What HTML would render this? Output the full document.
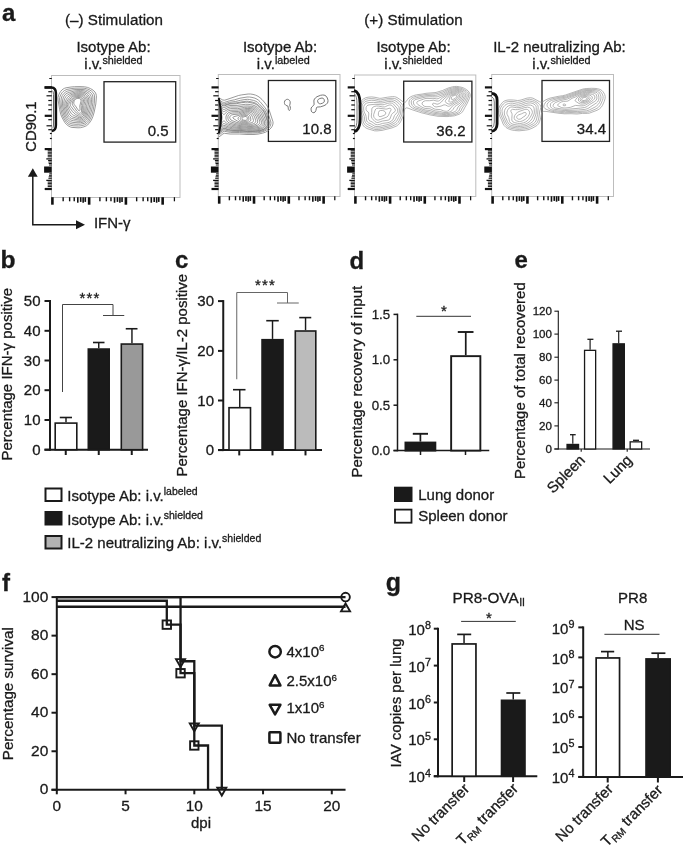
<!DOCTYPE html>
<html lang="en"><head><meta charset="utf-8"><title>Figure</title>
<style>
html,body{margin:0;padding:0;background:#fff;}
svg{display:block;font-family:"Liberation Sans",sans-serif;fill:#1a1a1a;}
text{stroke:#1a1a1a;stroke-width:0.3px;}
</style></head>
<body>
<svg width="683" height="846" viewBox="0 0 683 846">
<rect x="0" y="0" width="683" height="846" fill="#fff" stroke="none"/>
<text x="2.00" y="21.00" font-size="24" text-anchor="start" font-weight="bold" >a</text>
<text x="0.60" y="267.70" font-size="24.6" text-anchor="start" font-weight="bold" >b</text>
<text x="175.00" y="267.50" font-size="24" text-anchor="start" font-weight="bold" >c</text>
<text x="349.50" y="268.50" font-size="24" text-anchor="start" font-weight="bold" >d</text>
<text x="514.50" y="268.00" font-size="24" text-anchor="start" font-weight="bold" >e</text>
<text x="2.00" y="591.00" font-size="24" text-anchor="start" font-weight="bold" >f</text>
<text x="385.70" y="590.80" font-size="25" text-anchor="start" font-weight="bold" >g</text>
<text x="65.00" y="24.80" font-size="15.2" text-anchor="start" font-weight="normal" >(–) Stimulation</text>
<text x="364.30" y="24.80" font-size="15.2" text-anchor="start" font-weight="normal" >(+) Stimulation</text>
<text x="113.50" y="52.00" font-size="15" text-anchor="middle" font-weight="normal" >Isotype Ab:</text>
<text x="113.50" y="69" font-size="15" text-anchor="middle">i.v.<tspan font-size="10.8" dy="-4.6">shielded</tspan></text>
<text x="280.00" y="52.00" font-size="15" text-anchor="middle" font-weight="normal" >Isotype Ab:</text>
<text x="283.30" y="69" font-size="15" text-anchor="middle">i.v.<tspan font-size="10.8" dy="-4.6">labeled</tspan></text>
<text x="413.50" y="52.00" font-size="15" text-anchor="middle" font-weight="normal" >Isotype Ab:</text>
<text x="413.50" y="69" font-size="15" text-anchor="middle">i.v.<tspan font-size="10.8" dy="-4.6">shielded</tspan></text>
<text x="559.50" y="52.00" font-size="15" text-anchor="middle" font-weight="normal" >IL-2 neutralizing Ab:</text>
<text x="561.50" y="69" font-size="15" text-anchor="middle">i.v.<tspan font-size="10.8" dy="-4.6">shielded</tspan></text>
<clipPath id="cp1"><rect x="51.5" y="75.5" width="128.5" height="122.0"/></clipPath>
<clipPath id="cp2"><rect x="218.3" y="74.5" width="121.69999999999999" height="122.0"/></clipPath>
<clipPath id="cp3"><rect x="354.5" y="75" width="121.30000000000001" height="121.5"/></clipPath>
<clipPath id="cp4"><rect x="491.7" y="74.5" width="121.80000000000001" height="122.0"/></clipPath>
<rect x="51.5" y="75.5" width="128.5" height="122.0" fill="none" stroke="#bdbdbd" stroke-width="1"/>
<g stroke="#111">
<line x1="49.30" y1="78.50" x2="51.80" y2="78.50" stroke-width="1.0"/>
<line x1="44.70" y1="87.40" x2="51.80" y2="87.40" stroke-width="2.2"/>
<line x1="44.70" y1="115.80" x2="51.80" y2="115.80" stroke-width="2.2"/>
<line x1="44.70" y1="149.10" x2="51.80" y2="149.10" stroke-width="2.2"/>
<line x1="44.70" y1="189.00" x2="51.80" y2="189.00" stroke-width="2.2"/>
<line x1="48.30" y1="91.70" x2="51.80" y2="91.70" stroke-width="1.2"/>
<line x1="46.50" y1="95.80" x2="51.80" y2="95.80" stroke-width="1.2"/>
<line x1="48.30" y1="100.50" x2="51.80" y2="100.50" stroke-width="1.2"/>
<line x1="48.30" y1="105.00" x2="51.80" y2="105.00" stroke-width="1.2"/>
<line x1="48.30" y1="109.70" x2="51.80" y2="109.70" stroke-width="1.2"/>
<line x1="48.30" y1="119.70" x2="51.80" y2="119.70" stroke-width="1.2"/>
<line x1="46.50" y1="125.80" x2="51.80" y2="125.80" stroke-width="1.2"/>
<line x1="48.30" y1="129.70" x2="51.80" y2="129.70" stroke-width="1.2"/>
<line x1="49.90" y1="133.50" x2="51.80" y2="133.50" stroke-width="1.2"/>
<line x1="49.90" y1="138.50" x2="51.80" y2="138.50" stroke-width="1.2"/>
<line x1="47.70" y1="150.80" x2="51.80" y2="150.80" stroke-width="1.0"/>
<line x1="47.70" y1="152.30" x2="51.80" y2="152.30" stroke-width="1.0"/>
<line x1="47.70" y1="153.80" x2="51.80" y2="153.80" stroke-width="1.0"/>
<line x1="47.70" y1="155.30" x2="51.80" y2="155.30" stroke-width="1.0"/>
<line x1="47.70" y1="156.80" x2="51.80" y2="156.80" stroke-width="1.0"/>
<line x1="46.30" y1="158.90" x2="51.80" y2="158.90" stroke-width="1.3"/>
<line x1="48.10" y1="160.50" x2="51.80" y2="160.50" stroke-width="1.0"/>
<line x1="48.40" y1="162.00" x2="51.80" y2="162.00" stroke-width="1.0"/>
<line x1="48.70" y1="163.50" x2="51.80" y2="163.50" stroke-width="1.0"/>
<line x1="49.00" y1="165.00" x2="51.80" y2="165.00" stroke-width="1.0"/>
<rect x="44.10" y="166.50" width="7.6" height="6.2" fill="#111" stroke="none"/>
<line x1="49.30" y1="173.80" x2="51.80" y2="173.80" stroke-width="1.0"/>
<line x1="49.00" y1="175.30" x2="51.80" y2="175.30" stroke-width="1.0"/>
<line x1="48.70" y1="176.80" x2="51.80" y2="176.80" stroke-width="1.0"/>
<line x1="48.40" y1="178.30" x2="51.80" y2="178.30" stroke-width="1.0"/>
<line x1="46.30" y1="180.40" x2="51.80" y2="180.40" stroke-width="1.3"/>
<line x1="47.70" y1="182.10" x2="51.80" y2="182.10" stroke-width="1.0"/>
<line x1="47.70" y1="183.60" x2="51.80" y2="183.60" stroke-width="1.0"/>
<line x1="47.70" y1="185.10" x2="51.80" y2="185.10" stroke-width="1.0"/>
<line x1="47.70" y1="186.60" x2="51.80" y2="186.60" stroke-width="1.0"/>
<line x1="52.40" y1="197.20" x2="52.40" y2="204.70" stroke-width="2.6"/>
<line x1="89.15" y1="197.20" x2="89.15" y2="204.70" stroke-width="2.6"/>
<line x1="125.90" y1="197.20" x2="125.90" y2="204.70" stroke-width="2.6"/>
<line x1="162.65" y1="197.20" x2="162.65" y2="204.70" stroke-width="2.6"/>
<line x1="63.16" y1="197.20" x2="63.16" y2="201.30" stroke-width="1.4"/>
<line x1="69.63" y1="197.20" x2="69.63" y2="201.30" stroke-width="1.4"/>
<line x1="74.23" y1="197.20" x2="74.23" y2="201.30" stroke-width="1.4"/>
<line x1="77.79" y1="197.20" x2="77.79" y2="202.70" stroke-width="1.6"/>
<line x1="80.70" y1="197.20" x2="80.70" y2="201.90" stroke-width="1.6"/>
<line x1="83.16" y1="197.20" x2="83.16" y2="202.70" stroke-width="1.6"/>
<line x1="85.29" y1="197.20" x2="85.29" y2="201.90" stroke-width="1.6"/>
<line x1="99.91" y1="197.20" x2="99.91" y2="201.30" stroke-width="1.4"/>
<line x1="106.38" y1="197.20" x2="106.38" y2="201.30" stroke-width="1.4"/>
<line x1="110.98" y1="197.20" x2="110.98" y2="201.30" stroke-width="1.4"/>
<line x1="114.54" y1="197.20" x2="114.54" y2="202.70" stroke-width="1.6"/>
<line x1="117.45" y1="197.20" x2="117.45" y2="201.90" stroke-width="1.6"/>
<line x1="119.91" y1="197.20" x2="119.91" y2="202.70" stroke-width="1.6"/>
<line x1="122.04" y1="197.20" x2="122.04" y2="201.90" stroke-width="1.6"/>
<line x1="136.66" y1="197.20" x2="136.66" y2="201.30" stroke-width="1.4"/>
<line x1="143.13" y1="197.20" x2="143.13" y2="201.30" stroke-width="1.4"/>
<line x1="147.73" y1="197.20" x2="147.73" y2="201.30" stroke-width="1.4"/>
<line x1="151.29" y1="197.20" x2="151.29" y2="202.70" stroke-width="1.6"/>
<line x1="154.20" y1="197.20" x2="154.20" y2="201.90" stroke-width="1.6"/>
<line x1="156.66" y1="197.20" x2="156.66" y2="202.70" stroke-width="1.6"/>
<line x1="158.79" y1="197.20" x2="158.79" y2="201.90" stroke-width="1.6"/>
<line x1="174.41" y1="197.20" x2="174.41" y2="201.30" stroke-width="1.25"/>
</g>
<rect x="104" y="81.7" width="71.69999999999999" height="60.39999999999999" fill="none" stroke="#222" stroke-width="1.3"/>
<text x="168.50" y="136.30" font-size="15" text-anchor="end" font-weight="normal" >0.5</text>
<g fill="none" stroke="#7a7a7a" stroke-width="0.75" clip-path="url(#cp1)">
<path d="M76.9,98.5L78.0,98.3L79.5,98.6L80.5,99.3L81.0,100.5L80.9,101.5L79.8,106.0L80.1,110.0L79.9,110.5L79.5,110.8L79.0,110.8L78.0,109.9L76.2,107.0L74.2,104.5L73.8,103.5L73.8,102.0L74.4,100.5L75.5,99.2Z"/>
<path d="M77.4,97.5L79.0,97.5L80.5,97.9L81.5,98.7L82.2,100.0L82.1,101.5L81.2,105.5L81.6,111.0L81.0,112.6L80.5,113.1L80.0,113.3L79.5,113.3L78.5,112.8L76.7,111.0L74.3,107.5L72.8,105.5L72.1,104.0L72.5,102.0L73.9,99.5L75.5,98.1Z"/>
<path d="M75.8,97.0L78.0,96.6L80.5,96.8L81.5,97.3L82.5,98.0L83.4,99.5L83.5,101.0L82.5,105.5L82.8,110.0L82.6,112.0L82.3,113.0L81.7,114.0L80.5,114.9L79.5,114.9L78.5,114.6L76.4,113.0L74.1,110.5L71.0,106.5L70.5,105.5L70.3,104.5L70.4,103.5L71.0,102.0L71.9,100.5L73.5,98.5L74.5,97.7Z"/>
<path d="M76.0,96.0L79.0,95.6L81.5,96.1L82.5,96.6L83.7,97.5L84.4,98.5L84.7,99.5L84.7,101.5L83.8,105.5L83.8,110.5L83.5,112.7L83.1,114.0L82.5,115.0L81.5,115.9L80.5,116.3L79.5,116.3L78.0,115.9L75.7,114.5L73.8,113.0L72.5,111.6L70.0,108.2L69.3,107.0L68.8,105.5L68.7,104.5L69.1,103.0L69.9,101.5L71.2,99.5L72.5,98.1L73.5,97.2L74.7,96.5Z"/>
<path d="M76.2,95.0L79.5,94.7L81.0,94.9L82.5,95.3L83.7,96.0L84.8,97.0L85.5,98.0L86.1,99.5L86.1,101.5L85.2,105.5L84.9,110.5L84.4,113.5L83.8,115.0L83.0,116.2L82.0,117.1L81.0,117.5L79.5,117.6L78.0,117.3L73.9,115.5L72.3,114.5L71.0,113.1L69.5,110.6L68.2,108.0L67.5,106.0L67.4,104.5L67.7,103.0L68.5,101.3L70.1,99.0L71.5,97.5L73.0,96.3L74.5,95.5Z"/>
<path d="M76.3,94.0L78.5,93.8L80.5,93.8L82.0,94.0L83.5,94.6L85.0,95.5L86.0,96.5L87.0,98.0L87.4,99.5L87.4,102.0L86.5,106.4L85.9,111.5L85.2,114.5L84.5,116.1L83.5,117.5L82.5,118.2L81.0,118.8L79.5,118.9L77.5,118.5L72.7,117.0L71.0,116.0L70.0,115.0L68.8,113.0L67.0,108.5L66.3,106.0L66.2,104.0L66.6,102.0L67.7,100.0L69.2,98.0L70.7,96.5L72.5,95.3L74.5,94.5Z"/>
<path d="M76.2,93.0L78.5,92.8L81.0,92.8L83.0,93.1L84.5,93.7L86.0,94.7L87.3,96.0L88.2,97.5L88.7,99.0L88.8,101.0L88.6,103.0L87.3,110.5L86.2,115.0L85.4,117.0L84.5,118.2L83.0,119.4L81.5,119.9L79.0,120.1L74.0,119.1L71.5,118.4L70.0,117.5L68.6,116.0L67.5,114.0L65.2,106.5L64.9,104.0L65.2,102.0L66.2,99.5L67.4,97.5L69.0,96.0L71.0,94.8L73.5,93.7Z"/>
<path d="M75.6,92.0L78.5,91.7L81.0,91.7L83.0,92.0L85.0,92.6L87.0,93.8L88.3,95.0L89.3,96.5L90.0,98.5L90.2,101.0L89.9,104.5L88.8,110.0L87.1,116.0L86.2,118.0L85.0,119.6L83.5,120.6L81.5,121.2L78.5,121.4L73.5,120.7L71.0,120.1L69.5,119.2L67.9,117.5L66.4,115.0L65.7,113.0L64.0,106.5L63.7,103.5L64.0,101.0L64.7,98.5L66.0,96.4L67.4,95.0L69.3,94.0L72.5,92.8Z"/>
<path d="M74.3,91.0L77.0,90.7L80.5,90.6L83.0,90.7L85.0,91.2L87.0,92.0L89.0,93.4L90.4,95.0L91.1,96.5L91.5,99.5L91.3,104.0L90.4,109.5L88.8,115.0L87.7,118.0L86.5,119.9L85.0,121.3L83.0,122.2L80.5,122.7L78.0,122.8L73.0,122.4L70.5,121.7L68.5,120.4L67.0,118.6L65.4,116.0L64.4,113.0L62.9,107.0L62.4,104.0L62.6,100.0L63.5,97.0L65.0,94.7L67.0,93.2L69.5,92.3Z"/>
<path d="M76.1,89.5L83.0,89.5L85.5,89.9L87.5,90.6L89.9,92.0L91.5,93.5L92.4,95.0L92.9,97.0L92.9,102.5L92.4,106.5L91.2,112.0L89.2,118.0L87.8,120.5L86.0,122.4L84.0,123.4L80.5,124.2L76.0,124.3L72.0,123.9L69.5,123.0L67.5,121.5L65.4,118.5L63.7,115.0L62.2,109.5L61.3,105.0L61.0,101.0L61.3,98.0L62.3,95.5L63.8,93.5L65.5,92.1L67.5,91.1L73.0,89.8Z"/>
<path d="M71.9,88.5L75.0,88.2L81.0,88.1L84.0,88.2L86.5,88.7L89.0,89.6L91.5,91.1L93.0,92.5L94.2,94.5L94.6,97.0L94.3,103.5L93.2,110.0L92.2,114.0L90.7,118.0L88.8,121.5L86.9,123.5L84.5,124.9L81.0,125.8L78.5,126.0L73.0,125.8L70.0,125.0L68.0,123.9L66.1,122.0L63.7,118.0L62.3,115.0L60.8,109.0L59.8,103.0L59.5,99.0L59.7,97.5L60.2,96.0L60.9,94.5L62.0,92.8L63.2,91.5L64.5,90.5L67.0,89.4Z"/>
<path d="M71.0,87.0L74.5,86.7L80.0,86.6L84.5,86.8L87.5,87.4L90.5,88.6L93.0,90.1L95.0,92.0L96.0,94.0L96.3,95.5L96.4,97.0L95.8,104.0L94.2,112.0L92.9,116.5L91.4,120.0L89.0,123.5L86.5,125.7L84.0,126.8L80.5,127.7L78.0,127.8L72.0,127.4L70.5,127.0L69.0,126.3L66.5,124.5L64.8,122.5L62.3,118.0L60.8,114.5L59.6,109.5L58.1,100.0L58.0,97.5L58.7,95.0L59.6,93.0L60.6,91.5L61.9,90.0L63.2,89.0L64.5,88.3L66.0,87.8Z"/>
</g>
<path d="M44.5,87.5 L51.5,87.5 Q55.9,87.8 55.9,93.0 L55.9,125.0 Q55.9,130.5 51.8,131.0" fill="none" stroke="#111" stroke-width="2.5"/>
<path d="M52.0,90.5 Q53.5,91.0 53.5,94.5 L53.5,125.0 Q53.5,128.0 52.0,128.5" fill="none" stroke="#555" stroke-width="0.9"/>
<rect x="218.3" y="74.5" width="121.69999999999999" height="122.0" fill="none" stroke="#bdbdbd" stroke-width="1"/>
<g stroke="#111">
<line x1="216.10" y1="78.50" x2="218.60" y2="78.50" stroke-width="1.0"/>
<line x1="211.50" y1="87.40" x2="218.60" y2="87.40" stroke-width="2.2"/>
<line x1="211.50" y1="115.80" x2="218.60" y2="115.80" stroke-width="2.2"/>
<line x1="211.50" y1="149.10" x2="218.60" y2="149.10" stroke-width="2.2"/>
<line x1="211.50" y1="189.00" x2="218.60" y2="189.00" stroke-width="2.2"/>
<line x1="215.10" y1="91.70" x2="218.60" y2="91.70" stroke-width="1.2"/>
<line x1="213.30" y1="95.80" x2="218.60" y2="95.80" stroke-width="1.2"/>
<line x1="215.10" y1="100.50" x2="218.60" y2="100.50" stroke-width="1.2"/>
<line x1="215.10" y1="105.00" x2="218.60" y2="105.00" stroke-width="1.2"/>
<line x1="215.10" y1="109.70" x2="218.60" y2="109.70" stroke-width="1.2"/>
<line x1="215.10" y1="119.70" x2="218.60" y2="119.70" stroke-width="1.2"/>
<line x1="213.30" y1="125.80" x2="218.60" y2="125.80" stroke-width="1.2"/>
<line x1="215.10" y1="129.70" x2="218.60" y2="129.70" stroke-width="1.2"/>
<line x1="216.70" y1="133.50" x2="218.60" y2="133.50" stroke-width="1.2"/>
<line x1="216.70" y1="138.50" x2="218.60" y2="138.50" stroke-width="1.2"/>
<line x1="214.50" y1="150.80" x2="218.60" y2="150.80" stroke-width="1.0"/>
<line x1="214.50" y1="152.30" x2="218.60" y2="152.30" stroke-width="1.0"/>
<line x1="214.50" y1="153.80" x2="218.60" y2="153.80" stroke-width="1.0"/>
<line x1="214.50" y1="155.30" x2="218.60" y2="155.30" stroke-width="1.0"/>
<line x1="214.50" y1="156.80" x2="218.60" y2="156.80" stroke-width="1.0"/>
<line x1="213.10" y1="158.90" x2="218.60" y2="158.90" stroke-width="1.3"/>
<line x1="214.90" y1="160.50" x2="218.60" y2="160.50" stroke-width="1.0"/>
<line x1="215.20" y1="162.00" x2="218.60" y2="162.00" stroke-width="1.0"/>
<line x1="215.50" y1="163.50" x2="218.60" y2="163.50" stroke-width="1.0"/>
<line x1="215.80" y1="165.00" x2="218.60" y2="165.00" stroke-width="1.0"/>
<rect x="210.90" y="166.50" width="7.6" height="6.2" fill="#111" stroke="none"/>
<line x1="216.10" y1="173.80" x2="218.60" y2="173.80" stroke-width="1.0"/>
<line x1="215.80" y1="175.30" x2="218.60" y2="175.30" stroke-width="1.0"/>
<line x1="215.50" y1="176.80" x2="218.60" y2="176.80" stroke-width="1.0"/>
<line x1="215.20" y1="178.30" x2="218.60" y2="178.30" stroke-width="1.0"/>
<line x1="213.10" y1="180.40" x2="218.60" y2="180.40" stroke-width="1.3"/>
<line x1="214.50" y1="182.10" x2="218.60" y2="182.10" stroke-width="1.0"/>
<line x1="214.50" y1="183.60" x2="218.60" y2="183.60" stroke-width="1.0"/>
<line x1="214.50" y1="185.10" x2="218.60" y2="185.10" stroke-width="1.0"/>
<line x1="214.50" y1="186.60" x2="218.60" y2="186.60" stroke-width="1.0"/>
<line x1="219.20" y1="196.20" x2="219.20" y2="203.70" stroke-width="2.6"/>
<line x1="254.01" y1="196.20" x2="254.01" y2="203.70" stroke-width="2.6"/>
<line x1="288.81" y1="196.20" x2="288.81" y2="203.70" stroke-width="2.6"/>
<line x1="323.62" y1="196.20" x2="323.62" y2="203.70" stroke-width="2.6"/>
<line x1="229.38" y1="196.20" x2="229.38" y2="200.30" stroke-width="1.4"/>
<line x1="235.51" y1="196.20" x2="235.51" y2="200.30" stroke-width="1.4"/>
<line x1="239.85" y1="196.20" x2="239.85" y2="200.30" stroke-width="1.4"/>
<line x1="243.23" y1="196.20" x2="243.23" y2="201.70" stroke-width="1.6"/>
<line x1="245.98" y1="196.20" x2="245.98" y2="200.90" stroke-width="1.6"/>
<line x1="248.31" y1="196.20" x2="248.31" y2="201.70" stroke-width="1.6"/>
<line x1="250.33" y1="196.20" x2="250.33" y2="200.90" stroke-width="1.6"/>
<line x1="264.18" y1="196.20" x2="264.18" y2="200.30" stroke-width="1.4"/>
<line x1="270.31" y1="196.20" x2="270.31" y2="200.30" stroke-width="1.4"/>
<line x1="274.66" y1="196.20" x2="274.66" y2="200.30" stroke-width="1.4"/>
<line x1="278.03" y1="196.20" x2="278.03" y2="201.70" stroke-width="1.6"/>
<line x1="280.79" y1="196.20" x2="280.79" y2="200.90" stroke-width="1.6"/>
<line x1="283.12" y1="196.20" x2="283.12" y2="201.70" stroke-width="1.6"/>
<line x1="285.14" y1="196.20" x2="285.14" y2="200.90" stroke-width="1.6"/>
<line x1="298.99" y1="196.20" x2="298.99" y2="200.30" stroke-width="1.4"/>
<line x1="305.12" y1="196.20" x2="305.12" y2="200.30" stroke-width="1.4"/>
<line x1="309.47" y1="196.20" x2="309.47" y2="200.30" stroke-width="1.4"/>
<line x1="312.84" y1="196.20" x2="312.84" y2="201.70" stroke-width="1.6"/>
<line x1="315.59" y1="196.20" x2="315.59" y2="200.90" stroke-width="1.6"/>
<line x1="317.92" y1="196.20" x2="317.92" y2="201.70" stroke-width="1.6"/>
<line x1="319.94" y1="196.20" x2="319.94" y2="200.90" stroke-width="1.6"/>
<line x1="334.79" y1="196.20" x2="334.79" y2="200.30" stroke-width="1.25"/>
</g>
<rect x="268.4" y="80.5" width="67.40000000000003" height="60.900000000000006" fill="none" stroke="#222" stroke-width="1.3"/>
<text x="331.50" y="134.40" font-size="15" text-anchor="end" font-weight="normal" >10.8</text>
<g fill="none" stroke="#787878" stroke-width="0.75" clip-path="url(#cp2)">
<path d="M245.0,116.5L246.0,116.5L246.5,116.7L247.0,117.1L247.4,118.0L247.1,119.5L246.7,120.0L246.0,120.3L245.0,120.4L243.3,120.0L242.5,119.5L242.0,118.5L242.2,118.0L242.6,117.5L243.5,117.0Z"/>
<path d="M244.7,115.5L246.0,115.3L247.0,115.4L248.0,116.0L248.4,116.5L248.9,118.0L248.8,119.5L248.3,120.5L247.5,121.0L245.5,121.4L243.2,121.0L241.5,120.3L240.5,119.2L240.3,118.5L240.3,118.0L241.0,117.2L242.0,116.5Z"/>
<path d="M216.3,116.0L216.5,115.8L217.0,115.9L217.5,116.5L217.6,117.0L217.6,118.5L217.0,119.3L216.5,119.3L216.2,119.0L215.8,118.0L216.0,116.5Z"/>
<path d="M246.8,114.0L248.0,114.2L248.7,114.5L249.5,115.2L250.2,116.5L250.6,118.0L250.9,120.0L250.5,121.0L249.8,121.5L248.6,122.0L247.0,122.3L245.5,122.3L243.5,122.1L241.5,121.5L240.2,121.0L239.4,120.5L238.4,119.5L238.0,118.5L238.0,118.0L238.3,117.5L239.5,116.5L244.3,114.5Z"/>
<path d="M215.9,114.5L216.5,114.2L217.0,114.2L217.5,114.6L218.1,115.5L218.5,116.8L218.6,118.0L218.2,119.5L217.6,120.5L217.0,120.9L216.5,120.9L215.9,120.5L215.5,119.9L215.0,118.5L215.0,116.5L215.5,115.1Z"/>
<path d="M216.0,113.0L217.0,112.9L218.0,113.5L218.9,115.0L219.3,117.0L219.2,119.0L218.8,120.5L218.0,121.7L217.0,122.3L216.0,122.1L215.4,121.5L214.7,120.0L214.3,118.5L214.3,117.0L214.5,115.4L215.1,114.0Z"/>
<path d="M245.6,113.0L247.5,112.8L249.0,113.0L250.5,113.9L251.5,115.0L252.7,117.5L253.5,120.5L253.3,121.5L253.0,121.9L252.0,122.6L250.0,123.1L247.0,123.3L244.5,123.2L241.5,122.6L239.4,122.0L237.3,121.0L234.1,119.0L233.0,118.0L232.9,117.5L233.2,117.0L234.0,116.6L238.0,115.6Z"/>
<path d="M216.2,111.5L217.0,111.5L217.5,111.7L218.8,113.0L219.7,115.0L220.1,117.0L220.0,119.0L219.5,121.0L218.5,122.6L218.0,123.1L217.0,123.6L216.0,123.5L215.0,122.5L214.1,120.5L213.6,118.0L213.8,115.5L214.4,113.5L215.4,112.0Z"/>
<path d="M245.1,112.0L247.5,111.6L249.5,111.9L251.5,112.8L253.0,114.2L254.6,117.0L255.7,120.5L255.7,121.5L255.3,122.5L254.0,123.6L252.0,124.2L248.5,124.3L245.0,124.2L240.6,123.5L237.0,122.5L232.0,120.6L231.0,120.0L230.0,118.7L229.7,117.5L230.0,116.5L230.5,115.7L231.5,115.0L233.0,114.6L238.5,114.1Z"/>
<path d="M215.3,110.5L216.0,110.1L217.0,110.1L218.5,111.1L220.1,113.5L220.9,116.5L220.9,119.0L220.2,121.5L219.5,122.9L218.6,124.0L218.0,124.5L217.0,124.9L216.0,124.8L215.5,124.6L214.6,123.5L213.7,121.5L213.1,119.0L213.0,116.5L213.5,114.0L214.2,112.0Z"/>
<path d="M244.7,111.0L247.5,110.6L250.5,110.9L252.8,112.0L254.4,113.5L256.2,116.5L257.3,119.5L257.7,121.0L257.7,122.0L257.4,123.0L257.0,123.5L256.0,124.3L253.5,125.2L250.5,125.4L246.0,125.2L240.5,124.5L236.5,123.7L231.0,122.0L229.5,121.2L228.4,120.0L227.9,118.5L227.9,116.5L228.5,115.0L230.0,113.7L231.0,113.4L232.5,113.1L238.5,112.8Z"/>
<path d="M215.3,109.0L216.0,108.7L217.0,108.7L218.0,109.2L219.0,110.2L220.3,112.0L221.1,113.5L221.8,115.5L222.0,117.0L222.0,118.5L221.8,120.0L220.8,122.5L219.0,125.0L218.0,125.8L217.0,126.2L216.0,126.2L215.5,126.0L214.2,124.5L213.1,122.0L212.5,119.0L212.5,116.0L213.0,113.2L214.0,110.6L214.5,109.8Z"/>
<path d="M247.5,109.5L250.5,109.8L252.7,110.5L254.8,112.0L256.5,114.0L258.1,117.0L259.3,120.0L259.7,121.5L259.7,122.5L259.4,123.5L258.7,124.5L258.0,125.0L255.0,126.0L251.0,126.5L246.5,126.3L239.0,125.4L235.0,124.6L229.5,123.1L227.7,122.0L226.6,120.5L226.2,119.5L225.9,118.0L226.1,116.0L227.1,114.0L228.0,113.0L229.0,112.4L231.5,111.7L238.5,111.5L244.5,109.9Z"/>
<path d="M215.4,107.5L216.0,107.3L217.0,107.3L218.5,108.1L220.1,110.0L222.5,113.4L223.5,114.4L224.0,114.4L224.5,114.1L227.5,111.3L228.5,110.8L230.0,110.3L238.0,110.1L244.5,108.7L247.0,108.4L250.0,108.5L252.5,109.1L254.0,109.8L255.7,111.0L257.1,112.5L258.2,114.0L261.3,121.0L261.5,122.5L261.3,124.0L260.6,125.0L260.0,125.5L258.5,126.3L257.0,126.7L252.0,127.4L247.0,127.3L236.5,126.1L230.0,124.7L227.5,123.7L226.4,123.0L224.5,121.2L224.0,120.9L223.5,120.9L222.5,121.9L220.3,125.0L219.0,126.4L217.5,127.4L216.0,127.5L215.0,127.0L214.5,126.5L213.3,124.5L212.2,121.0L211.8,118.0L212.0,115.0L212.8,111.5L214.0,108.9Z"/>
<path d="M215.8,106.0L217.0,105.9L218.5,106.6L219.5,107.6L222.0,110.6L223.0,111.4L223.5,111.6L224.5,111.4L228.0,109.3L230.5,108.6L237.5,108.7L244.5,107.4L247.5,107.2L250.5,107.4L253.5,108.2L255.5,109.3L257.0,110.4L258.5,112.0L259.6,113.5L262.9,121.0L263.2,123.0L262.9,124.5L262.2,125.5L261.5,126.2L260.5,126.8L259.0,127.4L254.0,128.2L249.0,128.4L236.5,127.2L231.5,126.4L228.5,125.6L224.5,123.7L223.5,123.6L222.5,124.1L218.5,128.2L217.0,128.8L215.5,128.7L214.0,127.4L213.1,126.0L212.5,124.5L211.5,120.5L211.2,117.0L211.6,113.5L212.8,109.5L214.0,107.3L215.0,106.4Z"/>
<path d="M215.1,105.0L216.5,104.6L218.0,104.9L219.5,106.0L222.0,108.7L223.5,109.5L224.5,109.4L228.0,107.6L230.5,107.0L237.0,107.1L243.5,106.1L247.5,105.9L251.5,106.3L254.5,107.2L256.5,108.3L258.5,109.9L260.0,111.5L261.3,113.5L264.3,121.0L264.7,123.0L264.3,125.0L263.7,126.0L262.6,127.0L261.5,127.7L260.0,128.3L256.0,129.0L250.0,129.3L246.5,129.2L232.5,127.7L229.0,127.1L225.0,125.6L223.5,125.4L222.0,126.2L219.5,128.7L218.0,129.8L216.5,130.2L215.5,130.0L214.5,129.4L213.7,128.5L212.3,126.0L211.1,122.0L210.6,118.0L210.9,114.0L212.0,109.5L212.6,108.0L213.5,106.5Z"/>
<path d="M215.7,103.5L217.0,103.4L218.5,103.9L219.5,104.6L222.0,106.9L223.5,107.6L224.5,107.5L228.0,106.0L230.0,105.5L237.0,105.4L245.5,104.3L248.0,104.3L250.5,104.6L253.0,105.1L255.0,105.9L257.5,107.3L259.5,109.0L261.4,111.0L262.7,113.0L265.1,119.0L265.9,121.5L266.1,123.5L265.6,125.5L264.5,127.0L262.5,128.4L260.0,129.3L257.0,129.8L252.5,130.2L248.0,130.2L240.0,129.4L234.0,129.0L229.5,128.4L225.0,127.0L224.0,126.8L222.5,127.3L219.5,130.1L218.0,131.1L216.5,131.5L215.0,131.1L214.0,130.3L213.3,129.5L211.7,126.5L210.8,123.5L210.3,121.0L210.0,117.0L210.2,114.5L210.7,112.0L212.0,107.5L213.5,105.0L214.5,104.1Z"/>
<path d="M215.1,102.5L216.5,102.1L218.0,102.4L219.5,103.2L222.0,105.3L223.5,105.9L224.5,105.9L228.0,104.5L230.0,104.0L236.5,103.7L241.5,102.7L245.5,102.3L247.5,102.2L250.0,102.6L253.0,103.2L255.0,103.9L257.5,105.4L260.0,107.5L262.4,110.0L263.8,112.0L265.2,115.0L267.4,121.5L267.6,123.5L267.1,125.5L265.7,127.5L263.7,129.0L261.0,130.1L258.0,130.6L252.0,131.1L246.5,131.0L240.0,130.3L230.5,129.8L228.5,129.4L225.0,128.3L224.0,128.2L222.5,128.8L219.5,131.5L218.0,132.4L216.5,132.7L215.0,132.4L214.0,131.7L213.0,130.6L212.3,129.5L211.3,127.5L209.9,122.0L209.4,117.5L209.9,113.0L211.3,107.5L212.2,105.5L213.0,104.3L214.0,103.2Z"/>
<path d="M243.8,101.5L246.5,101.2L248.5,101.3L252.5,102.1L255.0,102.9L256.5,103.7L258.5,105.2L262.8,109.5L264.3,111.5L265.3,113.5L268.1,122.0L268.2,123.5L267.9,125.0L267.2,126.5L266.0,127.9L264.0,129.3L262.0,130.2L259.5,130.8L255.5,131.3L247.5,131.5L239.5,130.7L232.0,130.4L229.5,130.1L225.4,129.0L224.0,128.8L222.5,129.4L219.5,132.1L218.5,132.8L217.5,133.2L216.5,133.3L215.5,133.1L214.5,132.6L213.5,131.8L211.9,129.5L210.7,126.5L209.6,122.0L209.2,117.5L209.6,113.0L210.6,108.5L211.8,105.5L213.5,103.1L214.5,102.3L215.5,101.8L216.5,101.6L217.5,101.7L219.0,102.3L222.5,104.9L224.0,105.2L230.0,103.4L236.0,102.9Z"/>
<path d="M244.9,99.5L247.5,99.3L249.5,99.5L253.5,100.4L256.0,101.3L257.5,102.3L259.0,103.6L264.0,109.0L265.3,111.0L266.3,113.0L269.3,122.0L269.4,123.5L269.1,125.0L268.4,126.5L267.2,128.0L265.4,129.5L263.0,130.7L260.5,131.4L257.0,131.9L248.0,132.2L239.5,131.5L231.5,131.3L229.0,131.0L224.5,129.9L223.5,130.1L222.7,130.5L219.5,133.2L217.5,134.2L216.5,134.3L215.5,134.1L214.5,133.7L213.5,132.9L212.5,131.8L211.7,130.5L210.3,127.0L209.2,122.5L208.7,118.0L208.8,115.5L209.1,113.0L210.2,108.0L211.4,105.0L213.0,102.5L214.0,101.6L215.0,101.0L216.0,100.6L217.5,100.6L219.0,101.2L222.5,103.6L224.0,104.0L229.5,102.3L235.5,101.5L240.5,100.3Z"/>
<path d="M247.1,97.0L249.5,97.0L252.0,97.4L255.0,98.2L257.0,99.2L258.5,100.2L260.0,101.6L265.3,108.0L266.8,110.5L267.7,112.5L270.9,122.0L270.9,123.5L270.6,125.0L269.9,126.5L268.8,128.0L267.0,129.7L264.5,131.1L261.5,132.1L257.5,132.8L252.5,133.1L246.5,133.1L239.5,132.5L230.5,132.4L224.5,131.3L223.0,131.8L219.5,134.6L218.0,135.4L216.5,135.6L215.5,135.4L214.5,135.0L213.5,134.3L211.6,132.0L210.2,129.0L208.7,123.5L208.1,118.5L208.3,114.0L209.7,107.5L210.8,104.5L212.6,101.5L214.5,99.9L216.0,99.3L217.0,99.2L219.0,99.8L222.5,102.1L223.5,102.4L224.5,102.4L229.5,100.8L234.5,99.8L240.0,98.2Z"/>
<path d="M248.2,94.0L250.5,94.0L253.0,94.4L255.5,95.1L258.0,96.3L260.0,97.7L262.0,99.5L264.2,102.0L266.5,105.0L268.0,107.5L269.3,110.5L272.9,121.5L273.1,123.0L272.7,125.0L272.0,126.5L271.0,128.0L268.5,130.5L265.5,132.2L262.5,133.2L258.0,134.1L254.0,134.5L247.0,134.5L239.4,134.0L230.0,134.0L224.5,133.3L223.0,133.8L220.0,136.2L218.0,137.2L216.5,137.4L215.5,137.3L213.5,136.3L212.2,135.0L211.1,133.5L210.3,132.0L209.3,129.5L207.8,123.5L207.3,119.0L207.4,114.5L208.7,107.5L210.2,103.0L212.0,100.0L213.0,99.0L214.5,97.9L215.5,97.6L217.0,97.4L219.0,97.9L222.8,100.0L224.5,100.2L226.0,99.8L238.5,95.5L241.5,94.9Z"/>
</g>
<g fill="none" stroke="#6a6a6a" stroke-width="0.9" clip-path="url(#cp2)">
<path d="M286.3,99.5L287.5,99.3L288.5,99.6L289.5,100.4L290.1,101.5L290.2,103.0L289.7,105.5L290.3,107.0L290.4,108.5L290.2,109.5L289.5,110.4L289.0,110.4L288.4,109.5L288.0,106.2L286.0,105.4L285.5,105.0L285.0,104.5L284.5,103.5L284.4,102.5L284.7,101.0L285.5,100.0Z"/>
</g>
<g fill="none" stroke="#6a6a6a" stroke-width="0.9" clip-path="url(#cp2)">
<path d="M319.8,98.5L322.0,98.0L323.0,98.3L323.5,98.6L324.1,99.5L324.4,101.0L324.1,102.0L323.7,102.5L322.5,103.2L320.5,103.8L319.5,103.7L318.5,103.2L317.8,102.0L317.6,100.5L318.2,99.5Z"/>
<path d="M322.5,95.0L324.0,95.1L325.0,95.4L326.0,96.1L326.8,97.0L327.7,99.0L328.0,100.5L327.9,102.0L327.5,103.0L326.1,104.5L324.0,105.7L320.5,106.8L317.0,107.1L316.5,107.5L315.9,110.5L315.1,112.0L314.0,112.7L313.0,112.7L312.5,112.5L311.9,112.0L311.3,111.0L311.0,109.0L311.2,108.0L311.8,107.0L313.9,105.0L314.1,104.5L313.9,101.0L314.0,100.0L314.5,99.0L315.5,97.8L317.0,96.7L320.5,95.3Z"/>
</g>
<path d="M218.6,98 Q223.4,118 218.6,133.6 Z" fill="#444" fill-opacity="0.6" stroke="none"/>
<path d="M218.8,98 Q223.4,118 218.8,133.6" fill="none" stroke="#111" stroke-width="1.9"/>
<rect x="354.5" y="75" width="121.30000000000001" height="121.5" fill="none" stroke="#bdbdbd" stroke-width="1"/>
<g stroke="#111">
<line x1="352.30" y1="78.50" x2="354.80" y2="78.50" stroke-width="1.0"/>
<line x1="347.70" y1="87.40" x2="354.80" y2="87.40" stroke-width="2.2"/>
<line x1="347.70" y1="115.80" x2="354.80" y2="115.80" stroke-width="2.2"/>
<line x1="347.70" y1="149.10" x2="354.80" y2="149.10" stroke-width="2.2"/>
<line x1="347.70" y1="189.00" x2="354.80" y2="189.00" stroke-width="2.2"/>
<line x1="351.30" y1="91.70" x2="354.80" y2="91.70" stroke-width="1.2"/>
<line x1="349.50" y1="95.80" x2="354.80" y2="95.80" stroke-width="1.2"/>
<line x1="351.30" y1="100.50" x2="354.80" y2="100.50" stroke-width="1.2"/>
<line x1="351.30" y1="105.00" x2="354.80" y2="105.00" stroke-width="1.2"/>
<line x1="351.30" y1="109.70" x2="354.80" y2="109.70" stroke-width="1.2"/>
<line x1="351.30" y1="119.70" x2="354.80" y2="119.70" stroke-width="1.2"/>
<line x1="349.50" y1="125.80" x2="354.80" y2="125.80" stroke-width="1.2"/>
<line x1="351.30" y1="129.70" x2="354.80" y2="129.70" stroke-width="1.2"/>
<line x1="352.90" y1="133.50" x2="354.80" y2="133.50" stroke-width="1.2"/>
<line x1="352.90" y1="138.50" x2="354.80" y2="138.50" stroke-width="1.2"/>
<line x1="350.70" y1="150.80" x2="354.80" y2="150.80" stroke-width="1.0"/>
<line x1="350.70" y1="152.30" x2="354.80" y2="152.30" stroke-width="1.0"/>
<line x1="350.70" y1="153.80" x2="354.80" y2="153.80" stroke-width="1.0"/>
<line x1="350.70" y1="155.30" x2="354.80" y2="155.30" stroke-width="1.0"/>
<line x1="350.70" y1="156.80" x2="354.80" y2="156.80" stroke-width="1.0"/>
<line x1="349.30" y1="158.90" x2="354.80" y2="158.90" stroke-width="1.3"/>
<line x1="351.10" y1="160.50" x2="354.80" y2="160.50" stroke-width="1.0"/>
<line x1="351.40" y1="162.00" x2="354.80" y2="162.00" stroke-width="1.0"/>
<line x1="351.70" y1="163.50" x2="354.80" y2="163.50" stroke-width="1.0"/>
<line x1="352.00" y1="165.00" x2="354.80" y2="165.00" stroke-width="1.0"/>
<rect x="347.10" y="166.50" width="7.6" height="6.2" fill="#111" stroke="none"/>
<line x1="352.30" y1="173.80" x2="354.80" y2="173.80" stroke-width="1.0"/>
<line x1="352.00" y1="175.30" x2="354.80" y2="175.30" stroke-width="1.0"/>
<line x1="351.70" y1="176.80" x2="354.80" y2="176.80" stroke-width="1.0"/>
<line x1="351.40" y1="178.30" x2="354.80" y2="178.30" stroke-width="1.0"/>
<line x1="349.30" y1="180.40" x2="354.80" y2="180.40" stroke-width="1.3"/>
<line x1="350.70" y1="182.10" x2="354.80" y2="182.10" stroke-width="1.0"/>
<line x1="350.70" y1="183.60" x2="354.80" y2="183.60" stroke-width="1.0"/>
<line x1="350.70" y1="185.10" x2="354.80" y2="185.10" stroke-width="1.0"/>
<line x1="350.70" y1="186.60" x2="354.80" y2="186.60" stroke-width="1.0"/>
<line x1="355.40" y1="196.20" x2="355.40" y2="203.70" stroke-width="2.6"/>
<line x1="390.09" y1="196.20" x2="390.09" y2="203.70" stroke-width="2.6"/>
<line x1="424.78" y1="196.20" x2="424.78" y2="203.70" stroke-width="2.6"/>
<line x1="459.47" y1="196.20" x2="459.47" y2="203.70" stroke-width="2.6"/>
<line x1="365.54" y1="196.20" x2="365.54" y2="200.30" stroke-width="1.4"/>
<line x1="371.65" y1="196.20" x2="371.65" y2="200.30" stroke-width="1.4"/>
<line x1="375.99" y1="196.20" x2="375.99" y2="200.30" stroke-width="1.4"/>
<line x1="379.35" y1="196.20" x2="379.35" y2="201.70" stroke-width="1.6"/>
<line x1="382.09" y1="196.20" x2="382.09" y2="200.90" stroke-width="1.6"/>
<line x1="384.42" y1="196.20" x2="384.42" y2="201.70" stroke-width="1.6"/>
<line x1="386.43" y1="196.20" x2="386.43" y2="200.90" stroke-width="1.6"/>
<line x1="400.23" y1="196.20" x2="400.23" y2="200.30" stroke-width="1.4"/>
<line x1="406.34" y1="196.20" x2="406.34" y2="200.30" stroke-width="1.4"/>
<line x1="410.68" y1="196.20" x2="410.68" y2="200.30" stroke-width="1.4"/>
<line x1="414.04" y1="196.20" x2="414.04" y2="201.70" stroke-width="1.6"/>
<line x1="416.79" y1="196.20" x2="416.79" y2="200.90" stroke-width="1.6"/>
<line x1="419.11" y1="196.20" x2="419.11" y2="201.70" stroke-width="1.6"/>
<line x1="421.12" y1="196.20" x2="421.12" y2="200.90" stroke-width="1.6"/>
<line x1="434.92" y1="196.20" x2="434.92" y2="200.30" stroke-width="1.4"/>
<line x1="441.03" y1="196.20" x2="441.03" y2="200.30" stroke-width="1.4"/>
<line x1="445.37" y1="196.20" x2="445.37" y2="200.30" stroke-width="1.4"/>
<line x1="448.73" y1="196.20" x2="448.73" y2="201.70" stroke-width="1.6"/>
<line x1="451.48" y1="196.20" x2="451.48" y2="200.90" stroke-width="1.6"/>
<line x1="453.80" y1="196.20" x2="453.80" y2="201.70" stroke-width="1.6"/>
<line x1="455.81" y1="196.20" x2="455.81" y2="200.90" stroke-width="1.6"/>
<line x1="470.62" y1="196.20" x2="470.62" y2="200.30" stroke-width="1.25"/>
</g>
<rect x="403.7" y="81.2" width="68.19999999999999" height="60.8" fill="none" stroke="#222" stroke-width="1.3"/>
<text x="465.50" y="136.30" font-size="15" text-anchor="end" font-weight="normal" >36.2</text>
<g fill="none" stroke="#959595" stroke-width="0.7" clip-path="url(#cp3)">
<path d="M454.3,95.5L455.5,95.2L456.5,95.3L456.9,96.0L456.5,97.1L455.5,98.1L453.5,99.2L452.0,99.5L451.5,99.3L451.2,98.0L451.5,97.0L452.5,96.2Z"/>
<path d="M454.5,94.5L456.5,94.0L457.9,94.5L458.2,95.0L458.3,96.0L457.5,97.8L456.3,99.0L451.5,101.8L450.5,102.1L449.4,102.0L448.9,101.5L448.8,101.0L450.0,97.0L450.5,96.4L451.5,95.6Z"/>
<path d="M456.4,93.0L457.5,93.1L458.5,93.5L459.1,94.0L459.7,95.0L459.7,96.0L459.4,97.0L458.6,98.5L457.5,99.7L454.5,101.3L451.5,103.4L450.0,104.0L449.0,104.1L448.0,103.9L445.8,102.5L445.3,101.5L445.5,100.5L449.5,95.7L451.5,94.6Z"/>
<path d="M380.3,110.5L382.5,110.5L384.0,110.9L384.9,111.5L385.4,112.0L385.8,113.0L385.6,114.0L385.3,114.5L384.0,115.4L381.0,116.5L380.0,116.7L379.0,116.4L378.5,115.7L378.3,115.0L378.5,112.5L379.0,111.2Z"/>
<path d="M454.6,92.5L456.0,92.1L457.0,92.0L458.0,92.2L459.0,92.6L460.2,93.5L460.9,94.5L461.1,95.5L461.0,96.5L460.1,98.5L458.5,100.6L457.5,101.4L454.5,102.8L450.5,105.6L449.5,106.1L448.5,106.3L447.5,106.0L445.5,105.0L444.0,104.8L441.0,106.1L436.0,107.0L434.5,106.5L432.8,105.0L432.5,104.0L432.8,103.5L433.5,103.2L434.5,103.4L437.0,104.2L438.0,104.1L439.5,103.4L441.4,102.0L443.9,99.0L449.0,94.7L450.5,93.9Z"/>
<path d="M376.5,108.5L378.5,108.2L386.0,109.1L387.0,109.0L389.0,108.3L390.0,108.2L390.6,108.5L391.0,109.0L391.1,109.5L391.0,110.0L389.9,112.0L388.5,115.2L388.0,116.0L387.0,117.0L380.3,119.5L378.5,120.0L377.5,120.1L376.0,119.6L375.0,118.7L374.1,117.5L373.6,116.0L373.7,114.5L375.2,110.0L375.8,109.0Z"/>
<path d="M454.6,91.5L456.0,91.2L457.5,91.1L459.0,91.6L460.5,92.4L461.7,93.5L462.3,94.5L462.6,95.5L462.4,97.0L461.3,99.0L459.5,101.5L458.3,102.5L455.3,104.0L453.2,105.5L451.1,107.5L449.3,110.0L447.8,111.0L446.5,111.3L445.0,111.2L443.9,111.0L440.5,109.6L435.5,109.3L434.0,108.8L431.5,107.3L430.0,106.7L426.0,106.7L424.5,106.3L423.0,105.3L422.0,104.0L422.1,103.0L422.8,102.0L424.0,101.2L425.5,100.7L429.5,100.7L433.5,100.2L437.0,101.1L438.5,101.0L439.6,100.5L442.4,98.0L445.5,96.0L448.5,93.8L450.0,93.0Z"/>
<path d="M389.2,105.0L391.0,105.0L392.5,105.9L395.0,109.0L395.4,110.5L395.0,111.5L392.5,113.4L391.6,114.5L389.9,119.0L389.0,119.8L388.0,120.2L382.5,121.0L378.0,122.5L376.5,122.4L375.0,121.6L372.1,118.5L371.4,117.0L371.3,116.0L371.7,112.5L371.8,109.0L372.1,108.0L372.5,107.5L374.1,106.5L376.5,106.0L378.5,106.1L382.5,106.9L384.5,106.9L385.5,106.6L388.0,105.4Z"/>
<path d="M454.5,90.5L456.5,90.2L458.0,90.3L459.5,90.8L460.9,91.5L462.8,93.0L463.6,94.0L464.1,95.0L464.0,96.5L463.2,98.5L460.5,102.6L459.0,103.9L456.3,105.5L455.0,106.5L454.2,107.5L453.0,109.5L452.2,110.5L450.8,111.5L449.5,112.0L447.0,112.6L444.0,112.5L439.5,111.4L435.0,110.9L430.0,108.8L425.0,108.4L423.0,107.7L420.9,106.5L417.8,104.5L417.0,103.5L416.8,102.5L417.0,102.0L417.4,101.5L418.4,101.0L425.0,98.6L427.0,98.4L430.0,98.5L433.0,98.3L436.5,98.8L438.0,98.7L445.0,94.9L449.0,92.4Z"/>
<path d="M389.4,103.0L391.5,103.1L392.5,103.4L393.5,104.1L396.9,108.0L397.5,109.0L397.7,110.0L397.6,111.5L397.2,112.5L394.5,115.5L393.2,119.0L392.5,120.0L391.5,121.0L389.8,122.0L388.0,122.7L382.5,123.4L379.3,124.5L377.5,124.7L376.0,124.5L375.0,124.1L372.0,121.8L370.0,121.0L369.0,120.2L368.5,119.1L368.4,118.0L368.8,114.0L368.7,113.0L368.2,112.0L366.5,110.7L366.0,109.5L366.1,107.5L366.5,106.5L367.0,105.8L368.0,105.2L369.0,104.9L375.0,104.3L383.0,104.8L384.5,104.4L387.5,103.4Z"/>
<path d="M454.4,89.5L456.0,89.3L458.0,89.4L459.5,89.8L461.0,90.5L463.4,92.0L464.6,93.0L465.3,94.0L465.6,95.5L464.9,98.0L462.1,103.0L458.0,107.0L456.9,109.5L456.3,110.5L455.1,111.5L453.0,112.4L449.0,113.4L446.0,113.7L443.5,113.5L435.0,112.3L430.0,110.6L425.5,110.0L423.0,109.3L419.5,107.7L416.5,106.7L415.5,106.2L414.5,105.3L413.7,104.0L413.3,102.0L413.6,101.0L414.5,100.1L416.0,99.4L426.0,96.9L432.5,96.7L436.0,96.9L437.5,96.7L444.0,94.2L449.0,91.2Z"/>
<path d="M388.2,101.5L391.5,101.4L393.0,101.7L394.0,102.2L395.5,103.3L397.9,105.5L398.7,106.5L399.1,107.5L399.4,110.5L399.0,113.0L398.5,114.1L396.8,116.5L395.4,119.5L394.3,121.0L392.0,122.7L389.0,124.2L380.0,126.3L378.0,126.6L376.0,126.5L374.5,126.1L371.2,124.0L368.5,122.8L367.5,122.0L366.8,121.0L366.5,120.0L366.1,116.5L365.7,115.0L364.2,112.0L363.7,110.0L363.6,108.0L363.8,106.5L364.4,105.0L365.0,104.2L366.5,103.2L369.0,102.5L373.5,102.4L381.0,103.0L383.0,102.8Z"/>
<path d="M454.3,88.5L456.0,88.3L458.0,88.5L460.0,89.0L462.0,89.8L464.5,91.2L466.0,92.4L466.8,93.5L467.2,95.0L467.1,96.0L466.7,97.5L464.2,102.5L463.0,104.3L460.2,107.5L459.3,110.0L458.7,111.0L457.0,112.3L454.5,113.4L450.5,114.3L446.5,114.7L441.5,114.3L434.0,113.3L429.0,111.9L423.5,110.8L419.0,109.0L415.5,108.0L414.0,107.2L413.1,106.5L412.3,105.5L411.5,104.0L411.2,102.0L411.5,100.5L412.5,99.4L414.5,98.3L417.0,97.6L426.0,95.7L432.0,95.3L435.5,95.4L437.0,95.1L443.6,93.0L447.5,90.7L449.0,90.1Z"/>
<path d="M387.9,100.0L392.0,99.8L393.5,100.1L395.0,100.6L397.0,101.9L398.9,103.5L400.0,104.7L400.8,106.0L401.1,107.0L401.1,108.5L400.5,113.8L400.0,115.0L398.6,117.5L397.4,120.0L396.4,121.5L395.3,122.5L394.0,123.4L390.0,125.5L381.0,127.7L378.0,128.1L375.5,128.0L373.5,127.5L368.0,124.7L366.5,123.7L365.5,122.5L364.8,121.0L364.3,116.5L362.7,112.5L362.2,110.5L362.0,108.0L362.1,106.0L362.5,104.5L363.6,103.0L364.5,102.1L366.0,101.3L369.0,100.5L371.5,100.3L374.0,100.4L378.5,101.3L380.5,101.5L382.5,101.2Z"/>
<path d="M454.3,87.5L457.0,87.4L459.5,87.8L462.0,88.6L464.5,89.8L466.4,91.0L467.5,92.1L468.4,93.5L468.8,95.0L468.7,96.0L468.2,97.5L465.7,103.0L464.8,104.5L462.2,108.0L460.9,111.0L460.1,112.0L459.0,112.8L456.0,114.2L452.5,115.1L447.0,115.6L439.0,115.2L433.0,114.3L422.5,111.8L418.5,110.3L414.5,109.1L412.5,108.1L410.9,107.0L409.9,106.0L409.3,105.0L409.0,104.0L409.0,102.5L409.2,101.0L409.6,100.0L411.0,98.5L413.5,97.1L416.5,96.2L426.0,94.5L435.0,93.9L437.0,93.6L443.0,91.8L448.5,89.1L452.5,87.9Z"/>
<path d="M388.2,98.5L393.0,98.3L394.5,98.5L396.0,99.0L398.0,100.3L400.0,102.0L401.8,104.0L402.8,105.5L403.0,107.5L401.8,115.0L399.3,120.5L398.0,122.5L397.0,123.5L395.5,124.6L391.0,126.7L382.5,128.8L378.5,129.5L376.0,129.6L373.5,129.1L368.1,127.0L366.0,125.8L364.3,124.0L363.2,122.0L362.9,120.5L362.7,117.0L361.4,113.0L360.9,111.0L360.4,107.5L360.4,106.0L360.8,104.5L362.0,102.4L363.5,100.9L365.0,99.8L366.5,99.2L368.5,98.7L371.0,98.6L374.0,98.7L379.0,99.8L380.5,99.9Z"/>
<path d="M454.4,86.5L456.5,86.4L459.5,86.8L462.0,87.4L464.5,88.4L466.5,89.6L468.2,91.0L469.6,93.0L470.2,94.5L470.1,96.5L469.4,98.5L466.9,104.0L464.5,108.0L463.3,110.5L462.3,112.0L461.5,112.8L460.5,113.5L459.0,114.3L454.5,115.8L449.5,116.4L447.0,116.6L438.0,116.3L430.0,114.9L421.5,112.8L412.5,109.9L408.0,108.1L406.5,107.8L405.5,108.3L404.5,109.7L404.0,111.0L403.3,115.0L402.8,117.0L400.7,121.5L399.8,123.0L398.5,124.5L396.5,126.0L392.0,127.9L382.0,130.4L377.0,130.9L374.5,130.8L368.0,128.9L366.0,128.0L364.6,127.0L363.6,126.0L362.6,124.5L361.8,123.0L361.2,121.0L360.8,117.0L359.8,113.0L358.9,108.0L358.8,105.5L359.6,103.5L361.5,100.7L363.5,98.9L365.5,97.8L368.0,97.2L371.5,96.9L375.0,97.3L379.5,98.3L381.0,98.3L387.5,97.2L392.5,96.6L394.5,96.7L395.5,96.9L397.0,97.5L399.5,99.2L403.5,102.2L404.5,102.6L405.0,102.5L406.0,101.7L407.5,99.5L408.9,98.0L411.0,96.6L413.5,95.6L416.5,94.8L422.0,94.1L426.0,93.3L435.0,92.6L437.0,92.2L442.5,90.5L448.0,88.1L452.5,86.8Z"/>
</g>
<path d="M354,90.3 Q360.0,92 360.1,104 L360.1,119 Q360.0,130.5 354,131.7" fill="none" stroke="#111" stroke-width="2.8"/>
<path d="M354.5,94 Q357,96 357,104 L357,119 Q357,127 354.5,128.5" fill="none" stroke="#555" stroke-width="0.8"/>
<rect x="491.7" y="74.5" width="121.80000000000001" height="122.0" fill="none" stroke="#bdbdbd" stroke-width="1"/>
<g stroke="#111">
<line x1="489.50" y1="78.50" x2="492.00" y2="78.50" stroke-width="1.0"/>
<line x1="484.90" y1="87.40" x2="492.00" y2="87.40" stroke-width="2.2"/>
<line x1="484.90" y1="115.80" x2="492.00" y2="115.80" stroke-width="2.2"/>
<line x1="484.90" y1="149.10" x2="492.00" y2="149.10" stroke-width="2.2"/>
<line x1="484.90" y1="189.00" x2="492.00" y2="189.00" stroke-width="2.2"/>
<line x1="488.50" y1="91.70" x2="492.00" y2="91.70" stroke-width="1.2"/>
<line x1="486.70" y1="95.80" x2="492.00" y2="95.80" stroke-width="1.2"/>
<line x1="488.50" y1="100.50" x2="492.00" y2="100.50" stroke-width="1.2"/>
<line x1="488.50" y1="105.00" x2="492.00" y2="105.00" stroke-width="1.2"/>
<line x1="488.50" y1="109.70" x2="492.00" y2="109.70" stroke-width="1.2"/>
<line x1="488.50" y1="119.70" x2="492.00" y2="119.70" stroke-width="1.2"/>
<line x1="486.70" y1="125.80" x2="492.00" y2="125.80" stroke-width="1.2"/>
<line x1="488.50" y1="129.70" x2="492.00" y2="129.70" stroke-width="1.2"/>
<line x1="490.10" y1="133.50" x2="492.00" y2="133.50" stroke-width="1.2"/>
<line x1="490.10" y1="138.50" x2="492.00" y2="138.50" stroke-width="1.2"/>
<line x1="487.90" y1="150.80" x2="492.00" y2="150.80" stroke-width="1.0"/>
<line x1="487.90" y1="152.30" x2="492.00" y2="152.30" stroke-width="1.0"/>
<line x1="487.90" y1="153.80" x2="492.00" y2="153.80" stroke-width="1.0"/>
<line x1="487.90" y1="155.30" x2="492.00" y2="155.30" stroke-width="1.0"/>
<line x1="487.90" y1="156.80" x2="492.00" y2="156.80" stroke-width="1.0"/>
<line x1="486.50" y1="158.90" x2="492.00" y2="158.90" stroke-width="1.3"/>
<line x1="488.30" y1="160.50" x2="492.00" y2="160.50" stroke-width="1.0"/>
<line x1="488.60" y1="162.00" x2="492.00" y2="162.00" stroke-width="1.0"/>
<line x1="488.90" y1="163.50" x2="492.00" y2="163.50" stroke-width="1.0"/>
<line x1="489.20" y1="165.00" x2="492.00" y2="165.00" stroke-width="1.0"/>
<rect x="484.30" y="166.50" width="7.6" height="6.2" fill="#111" stroke="none"/>
<line x1="489.50" y1="173.80" x2="492.00" y2="173.80" stroke-width="1.0"/>
<line x1="489.20" y1="175.30" x2="492.00" y2="175.30" stroke-width="1.0"/>
<line x1="488.90" y1="176.80" x2="492.00" y2="176.80" stroke-width="1.0"/>
<line x1="488.60" y1="178.30" x2="492.00" y2="178.30" stroke-width="1.0"/>
<line x1="486.50" y1="180.40" x2="492.00" y2="180.40" stroke-width="1.3"/>
<line x1="487.90" y1="182.10" x2="492.00" y2="182.10" stroke-width="1.0"/>
<line x1="487.90" y1="183.60" x2="492.00" y2="183.60" stroke-width="1.0"/>
<line x1="487.90" y1="185.10" x2="492.00" y2="185.10" stroke-width="1.0"/>
<line x1="487.90" y1="186.60" x2="492.00" y2="186.60" stroke-width="1.0"/>
<line x1="492.60" y1="196.20" x2="492.60" y2="203.70" stroke-width="2.6"/>
<line x1="527.43" y1="196.20" x2="527.43" y2="203.70" stroke-width="2.6"/>
<line x1="562.27" y1="196.20" x2="562.27" y2="203.70" stroke-width="2.6"/>
<line x1="597.10" y1="196.20" x2="597.10" y2="203.70" stroke-width="2.6"/>
<line x1="502.79" y1="196.20" x2="502.79" y2="200.30" stroke-width="1.4"/>
<line x1="508.92" y1="196.20" x2="508.92" y2="200.30" stroke-width="1.4"/>
<line x1="513.27" y1="196.20" x2="513.27" y2="200.30" stroke-width="1.4"/>
<line x1="516.65" y1="196.20" x2="516.65" y2="201.70" stroke-width="1.6"/>
<line x1="519.41" y1="196.20" x2="519.41" y2="200.90" stroke-width="1.6"/>
<line x1="521.74" y1="196.20" x2="521.74" y2="201.70" stroke-width="1.6"/>
<line x1="523.76" y1="196.20" x2="523.76" y2="200.90" stroke-width="1.6"/>
<line x1="537.62" y1="196.20" x2="537.62" y2="200.30" stroke-width="1.4"/>
<line x1="543.75" y1="196.20" x2="543.75" y2="200.30" stroke-width="1.4"/>
<line x1="548.11" y1="196.20" x2="548.11" y2="200.30" stroke-width="1.4"/>
<line x1="551.48" y1="196.20" x2="551.48" y2="201.70" stroke-width="1.6"/>
<line x1="554.24" y1="196.20" x2="554.24" y2="200.90" stroke-width="1.6"/>
<line x1="556.57" y1="196.20" x2="556.57" y2="201.70" stroke-width="1.6"/>
<line x1="558.59" y1="196.20" x2="558.59" y2="200.90" stroke-width="1.6"/>
<line x1="572.45" y1="196.20" x2="572.45" y2="200.30" stroke-width="1.4"/>
<line x1="578.59" y1="196.20" x2="578.59" y2="200.30" stroke-width="1.4"/>
<line x1="582.94" y1="196.20" x2="582.94" y2="200.30" stroke-width="1.4"/>
<line x1="586.32" y1="196.20" x2="586.32" y2="201.70" stroke-width="1.6"/>
<line x1="589.07" y1="196.20" x2="589.07" y2="200.90" stroke-width="1.6"/>
<line x1="591.41" y1="196.20" x2="591.41" y2="201.70" stroke-width="1.6"/>
<line x1="593.43" y1="196.20" x2="593.43" y2="200.90" stroke-width="1.6"/>
<line x1="608.29" y1="196.20" x2="608.29" y2="200.30" stroke-width="1.25"/>
</g>
<rect x="542" y="80.5" width="67.5" height="60.900000000000006" fill="none" stroke="#222" stroke-width="1.3"/>
<text x="606.00" y="134.40" font-size="15" text-anchor="end" font-weight="normal" >34.4</text>
<g fill="none" stroke="#959595" stroke-width="0.7" clip-path="url(#cp4)">
<path d="M584.2,97.5L585.5,97.5L586.6,98.0L586.9,98.5L586.8,99.0L586.4,99.5L585.5,100.1L584.0,100.5L583.0,100.5L581.9,100.0L581.6,99.5L581.7,99.0L582.0,98.5L582.7,98.0Z"/>
<path d="M584.1,96.5L586.0,96.4L587.5,96.9L588.4,98.0L588.3,99.0L588.0,99.5L586.7,100.5L584.5,101.4L582.5,101.5L580.9,101.0L580.1,100.0L580.0,99.5L580.3,98.5L581.5,97.4Z"/>
<path d="M584.0,95.5L586.5,95.4L588.5,96.0L589.2,96.5L590.0,97.5L590.2,98.0L590.0,99.0L588.5,100.5L586.0,101.9L584.5,102.5L582.0,102.7L581.0,102.5L579.8,102.0L578.7,101.0L578.4,100.0L578.4,99.0L578.9,98.0L580.0,97.0L580.9,96.5Z"/>
<path d="M524.2,112.5L525.5,112.5L526.0,112.9L526.2,113.5L526.0,114.7L525.0,116.0L523.0,117.2L521.0,118.8L520.0,119.2L518.5,119.2L517.5,118.7L517.0,118.2L516.7,117.5L516.7,117.0L517.0,116.1L517.6,115.5L518.5,114.9L521.5,113.8Z"/>
<path d="M583.9,94.5L586.0,94.3L587.7,94.5L590.0,95.2L591.5,96.1L592.3,97.0L592.4,98.0L591.6,99.5L590.6,100.5L585.5,103.4L584.0,103.9L582.5,104.1L580.5,104.0L579.0,103.5L575.2,101.0L575.1,100.5L575.7,99.5L576.9,98.0L577.9,97.0L580.5,95.6Z"/>
<path d="M563.0,104.5L563.5,104.2L564.5,104.0L565.6,104.5L566.0,105.0L565.5,105.6L564.0,105.8L563.2,105.5L563.0,105.2L562.9,105.0Z"/>
<path d="M524.7,109.5L526.0,109.2L527.5,109.5L528.8,110.5L529.6,112.0L529.7,113.0L529.2,114.5L528.1,116.5L527.0,117.9L525.5,119.2L524.0,120.1L522.2,121.0L520.5,121.5L519.5,121.6L518.0,121.3L516.5,120.8L515.1,120.0L514.5,119.2L514.2,118.5L514.2,117.0L514.7,115.5L516.0,113.6L517.3,112.5L519.0,111.5Z"/>
<path d="M583.9,93.5L585.5,93.3L587.5,93.4L592.5,94.4L594.0,95.1L594.6,96.0L594.9,97.0L594.8,98.0L594.4,99.0L592.9,100.5L591.5,101.5L585.5,105.0L583.5,105.7L581.0,105.9L575.5,105.4L570.5,107.3L568.0,107.7L565.0,108.0L563.0,107.9L561.5,107.5L558.3,106.0L557.7,105.5L557.6,105.0L558.3,104.0L559.5,103.0L561.2,102.0L563.5,101.4L567.0,101.2L568.0,101.0L572.0,98.3L575.0,97.2L579.5,94.9Z"/>
<path d="M524.9,107.5L527.5,107.1L529.5,107.6L531.0,108.7L532.2,111.0L532.4,112.5L532.0,114.0L530.4,117.0L528.6,119.5L527.1,121.0L525.5,122.0L523.5,122.8L521.0,123.4L519.5,123.5L517.5,123.3L514.5,122.6L513.0,121.9L512.2,121.0L511.8,120.0L511.8,118.5L512.1,114.5L511.9,113.5L510.9,111.5L510.9,110.5L511.2,110.0L511.9,109.5L512.5,109.3L515.5,109.7L517.5,109.6L521.5,108.7Z"/>
<path d="M584.1,92.5L586.0,92.3L588.0,92.4L592.5,92.8L594.5,93.3L595.5,93.8L596.2,94.5L596.8,96.5L596.9,98.0L596.8,99.0L595.9,100.5L594.6,101.5L589.6,104.5L587.5,106.1L586.1,107.0L584.5,107.5L580.5,108.1L567.0,109.3L564.5,109.4L555.4,108.0L554.1,107.5L553.2,106.5L553.1,105.5L553.7,104.0L554.5,103.2L555.6,102.5L560.6,100.5L567.5,99.0L571.5,97.2L578.5,94.3L582.0,93.0Z"/>
<path d="M528.2,105.0L530.5,105.1L532.5,105.8L533.7,107.0L534.1,108.5L534.4,112.0L534.1,114.0L532.0,118.7L530.3,121.0L528.0,122.8L526.0,123.9L523.5,124.6L520.5,125.1L518.0,125.1L514.0,124.5L512.0,123.9L510.5,123.0L509.5,121.5L508.7,117.5L507.2,114.5L506.9,113.5L507.0,112.0L507.5,110.5L508.3,109.0L509.0,108.1L510.5,107.2L512.0,106.9L516.5,107.7L519.0,107.6L521.5,107.0L526.0,105.3Z"/>
<path d="M584.5,91.5L586.5,91.3L591.0,91.5L595.5,92.1L597.0,92.7L597.8,93.5L598.3,94.5L598.7,96.0L598.9,97.5L598.9,99.0L598.4,100.5L597.5,102.0L596.5,102.9L588.0,108.5L585.5,109.3L578.5,110.0L564.0,110.6L554.0,109.2L552.5,108.7L551.6,108.0L550.5,106.5L550.3,105.0L550.7,103.5L551.7,102.5L553.3,101.5L559.5,99.5L567.0,97.8L580.0,92.8L582.5,91.9Z"/>
<path d="M528.0,103.0L530.5,102.9L533.0,103.5L535.0,104.8L535.6,105.5L536.1,106.5L536.2,107.5L536.2,112.0L536.0,114.0L534.1,119.5L532.9,121.5L530.5,123.3L527.0,125.3L525.0,125.8L520.5,126.5L517.5,126.6L513.0,125.9L510.5,125.1L509.0,124.1L508.2,123.0L507.4,121.5L504.8,115.5L504.4,114.0L504.3,112.0L504.6,110.5L505.2,109.0L506.3,107.5L508.0,106.1L510.0,105.2L512.5,105.1L516.5,106.0L518.5,106.0L520.7,105.5L525.5,103.6Z"/>
<path d="M585.1,90.5L592.5,90.5L595.5,90.8L597.5,91.3L598.7,92.0L599.6,93.0L600.3,94.5L600.9,96.5L601.0,98.0L600.6,100.0L599.5,102.5L598.1,104.5L596.5,106.0L595.1,107.0L589.0,110.1L586.5,110.8L577.5,111.5L571.0,111.4L565.5,111.7L563.0,111.6L554.5,110.6L552.0,110.0L550.5,109.4L549.1,108.5L548.0,107.5L547.3,106.5L547.1,105.5L547.1,104.5L547.8,103.0L549.5,101.5L551.5,100.4L558.5,98.5L566.5,96.9L581.5,91.3Z"/>
<path d="M526.4,101.5L528.0,101.1L529.5,101.0L532.5,101.6L534.5,102.4L536.0,103.4L537.2,104.5L537.8,105.5L538.1,106.5L538.2,107.5L537.6,114.5L536.3,120.0L535.3,122.0L533.5,123.6L529.0,126.1L527.0,126.9L524.5,127.4L519.5,128.0L516.0,127.8L511.5,127.0L509.9,126.5L508.5,125.7L507.2,124.5L506.3,123.0L503.1,116.0L502.4,114.0L502.0,111.5L502.0,110.0L502.5,108.5L503.4,107.0L504.8,105.5L506.0,104.5L507.0,104.0L508.5,103.5L510.5,103.2L512.5,103.2L517.0,104.2L518.5,104.2L521.2,103.5Z"/>
<path d="M586.1,89.5L593.0,89.4L596.0,89.6L598.0,90.1L599.5,90.7L600.5,91.5L601.7,93.0L602.7,95.0L603.1,96.5L603.0,98.5L602.4,100.5L600.6,104.5L599.6,106.0L598.5,107.2L597.0,108.3L595.0,109.3L589.5,111.6L587.0,112.2L582.5,112.2L577.0,112.8L571.0,112.5L564.5,112.8L554.5,111.7L551.0,111.0L548.5,110.2L546.0,109.2L544.9,108.5L544.0,107.5L543.8,107.0L543.8,106.0L544.3,104.5L545.1,103.0L546.5,101.4L549.5,99.7L552.5,98.7L565.8,96.0L581.5,90.4L584.0,89.7Z"/>
<path d="M527.8,99.5L529.5,99.3L531.0,99.5L532.5,99.9L534.5,100.7L537.0,102.2L538.7,103.5L539.7,104.5L540.7,106.0L540.9,107.5L539.8,111.0L538.8,118.0L538.0,121.0L537.0,122.9L535.0,124.7L530.5,127.2L528.0,128.2L525.0,128.8L519.5,129.4L515.5,129.2L510.5,128.2L509.0,127.7L507.5,126.8L506.1,125.5L504.7,123.5L503.0,119.4L501.3,116.0L500.5,113.5L500.1,111.5L500.1,109.5L500.8,107.5L502.0,105.6L503.3,104.0L504.5,103.0L505.5,102.3L507.0,101.8L509.0,101.5L512.0,101.5L514.0,101.6L517.5,102.3L519.0,102.2L521.0,101.7L525.5,100.1Z"/>
<path d="M586.9,88.5L591.5,88.3L595.0,88.4L597.5,88.7L600.0,89.4L601.9,90.5L603.3,92.0L604.7,94.5L605.2,96.5L605.1,98.5L604.2,101.5L602.4,105.5L601.0,107.5L599.3,109.0L597.0,110.3L589.5,113.1L587.5,113.4L582.5,113.4L577.0,114.0L571.0,113.7L564.5,113.8L559.0,113.3L546.0,111.4L543.5,111.4L542.5,111.8L541.6,113.0L540.7,118.0L539.6,121.5L538.5,123.8L536.9,125.5L533.0,127.8L529.0,129.5L525.5,130.2L519.0,130.8L514.5,130.5L511.0,129.8L508.0,128.7L506.1,127.5L504.1,125.5L503.1,124.0L501.6,120.0L499.8,116.5L499.1,114.5L498.7,112.5L498.5,110.5L498.7,108.5L499.3,107.0L500.4,105.0L502.5,102.4L504.0,101.2L506.0,100.4L508.0,100.0L510.0,99.9L513.5,100.0L517.5,100.5L519.0,100.4L521.0,100.0L527.0,98.1L530.5,97.7L533.0,98.2L539.5,101.7L540.5,102.1L541.5,102.2L542.5,101.9L546.0,99.7L550.0,98.1L558.0,96.4L562.5,95.7L565.5,95.0L582.0,89.3L584.5,88.7Z"/>
</g>
<path d="M491.5,93.4 Q496.9,93.6 497.1,100 L497.1,124 Q496.9,130.6 491.5,131.3" fill="none" stroke="#111" stroke-width="2.8"/>
<path d="M492,97 Q494.3,98 494.3,102 L494.3,122 Q494.3,127 492,128" fill="none" stroke="#555" stroke-width="0.8"/>
<text x="36.30" y="151.70" font-size="14.8" text-anchor="start" font-weight="normal" transform="rotate(-90 36.30 151.70)" >CD90.1</text>
<path d="M32.8,170 L32.8,224.8 L83,224.8" fill="none" stroke="#1a1a1a" stroke-width="1.5"/>
<path d="M32.8,168.2 L37.7,176.8 L27.9,176.8Z" fill="#1a1a1a"/>
<path d="M85.0,224.8 L76.0,220.3 L76.0,229.3Z" fill="#1a1a1a"/>
<text x="93.90" y="228.20" font-size="15" text-anchor="start" font-weight="normal" >IFN-γ</text>
<line x1="50.00" y1="300.00" x2="50.00" y2="450.70" stroke="#1a1a1a" stroke-width="2" />
<line x1="44.50" y1="449.70" x2="148.00" y2="449.70" stroke="#1a1a1a" stroke-width="2" />
<line x1="44.50" y1="301.00" x2="50.00" y2="301.00" stroke="#1a1a1a" stroke-width="2" />
<text x="40.50" y="306.02" font-size="15" text-anchor="end" font-weight="normal" >50</text>
<line x1="44.50" y1="330.80" x2="50.00" y2="330.80" stroke="#1a1a1a" stroke-width="2" />
<text x="40.50" y="335.82" font-size="15" text-anchor="end" font-weight="normal" >40</text>
<line x1="44.50" y1="360.50" x2="50.00" y2="360.50" stroke="#1a1a1a" stroke-width="2" />
<text x="40.50" y="365.52" font-size="15" text-anchor="end" font-weight="normal" >30</text>
<line x1="44.50" y1="390.20" x2="50.00" y2="390.20" stroke="#1a1a1a" stroke-width="2" />
<text x="40.50" y="395.22" font-size="15" text-anchor="end" font-weight="normal" >20</text>
<line x1="44.50" y1="420.00" x2="50.00" y2="420.00" stroke="#1a1a1a" stroke-width="2" />
<text x="40.50" y="425.02" font-size="15" text-anchor="end" font-weight="normal" >10</text>
<line x1="44.50" y1="449.70" x2="50.00" y2="449.70" stroke="#1a1a1a" stroke-width="2" />
<text x="40.50" y="454.72" font-size="15" text-anchor="end" font-weight="normal" >0</text>
<line x1="65.75" y1="449.70" x2="65.75" y2="455.00" stroke="#1a1a1a" stroke-width="2" />
<line x1="98.75" y1="449.70" x2="98.75" y2="455.00" stroke="#1a1a1a" stroke-width="2" />
<line x1="131.75" y1="449.70" x2="131.75" y2="455.00" stroke="#1a1a1a" stroke-width="2" />
<line x1="66.00" y1="422.30" x2="66.00" y2="417.50" stroke="#1a1a1a" stroke-width="1.4400000000000002" />
<line x1="59.80" y1="417.50" x2="72.00" y2="417.50" stroke="#1a1a1a" stroke-width="1.6" />
<rect x="55.20" y="423.10" width="21.60" height="26.60" fill="#fff" stroke="#1a1a1a" stroke-width="1.6"/>
<line x1="98.75" y1="348.25" x2="98.75" y2="342.50" stroke="#1a1a1a" stroke-width="1.4400000000000002" />
<line x1="93.00" y1="342.50" x2="104.50" y2="342.50" stroke="#1a1a1a" stroke-width="1.6" />
<rect x="88.30" y="349.05" width="20.90" height="100.65" fill="#1a1a1a" stroke="#1a1a1a" stroke-width="1.6"/>
<line x1="131.95" y1="343.25" x2="131.95" y2="328.75" stroke="#1a1a1a" stroke-width="1.4400000000000002" />
<line x1="125.75" y1="328.75" x2="137.50" y2="328.75" stroke="#1a1a1a" stroke-width="1.6" />
<rect x="121.30" y="344.05" width="21.30" height="105.65" fill="#999" stroke="#1a1a1a" stroke-width="1.6"/>
<path d="M62.5,392 L62.5,304.5 L113,304.5 L113,315.5 M103,315.5 L124.25,315.5" fill="none" stroke="#444" stroke-width="1"/>
<text x="90.10" y="302.80" font-size="15" text-anchor="middle" font-weight="normal" letter-spacing="1.2">***</text>
<text x="12.20" y="460.50" font-size="15" text-anchor="start" font-weight="normal" transform="rotate(-90 12.20 460.50)" >Percentage IFN-γ positive</text>
<line x1="223.25" y1="300.10" x2="223.25" y2="451.10" stroke="#1a1a1a" stroke-width="2" />
<line x1="218.00" y1="450.10" x2="322.00" y2="450.10" stroke="#1a1a1a" stroke-width="2" />
<line x1="218.00" y1="301.10" x2="223.25" y2="301.10" stroke="#1a1a1a" stroke-width="2" />
<text x="214.00" y="306.12" font-size="15" text-anchor="end" font-weight="normal" >30</text>
<line x1="218.00" y1="350.90" x2="223.25" y2="350.90" stroke="#1a1a1a" stroke-width="2" />
<text x="214.00" y="355.92" font-size="15" text-anchor="end" font-weight="normal" >20</text>
<line x1="218.00" y1="400.50" x2="223.25" y2="400.50" stroke="#1a1a1a" stroke-width="2" />
<text x="214.00" y="405.52" font-size="15" text-anchor="end" font-weight="normal" >10</text>
<line x1="218.00" y1="450.10" x2="223.25" y2="450.10" stroke="#1a1a1a" stroke-width="2" />
<text x="214.00" y="455.12" font-size="15" text-anchor="end" font-weight="normal" >0</text>
<line x1="239.25" y1="450.10" x2="239.25" y2="455.40" stroke="#1a1a1a" stroke-width="2" />
<line x1="272.50" y1="450.10" x2="272.50" y2="455.40" stroke="#1a1a1a" stroke-width="2" />
<line x1="305.50" y1="450.10" x2="305.50" y2="455.40" stroke="#1a1a1a" stroke-width="2" />
<line x1="239.75" y1="406.90" x2="239.75" y2="389.70" stroke="#1a1a1a" stroke-width="1.4400000000000002" />
<line x1="233.00" y1="389.70" x2="245.50" y2="389.70" stroke="#1a1a1a" stroke-width="1.6" />
<rect x="229.00" y="407.70" width="21.50" height="42.40" fill="#fff" stroke="#1a1a1a" stroke-width="1.6"/>
<line x1="272.52" y1="338.90" x2="272.52" y2="320.70" stroke="#1a1a1a" stroke-width="1.4400000000000002" />
<line x1="266.25" y1="320.70" x2="278.75" y2="320.70" stroke="#1a1a1a" stroke-width="1.6" />
<rect x="262.05" y="339.70" width="20.95" height="110.40" fill="#1a1a1a" stroke="#1a1a1a" stroke-width="1.6"/>
<line x1="305.55" y1="330.20" x2="305.55" y2="317.60" stroke="#1a1a1a" stroke-width="1.4400000000000002" />
<line x1="299.25" y1="317.60" x2="311.25" y2="317.60" stroke="#1a1a1a" stroke-width="1.6" />
<rect x="295.30" y="331.00" width="20.50" height="119.10" fill="#bbbbbb" stroke="#1a1a1a" stroke-width="1.6"/>
<path d="M236.75,379.25 L236.75,292.5 L287.5,292.5 L287.5,303 M277,303 L298.75,303" fill="none" stroke="#666" stroke-width="1"/>
<text x="265.60" y="290.00" font-size="15" text-anchor="middle" font-weight="normal" letter-spacing="1.2">***</text>
<text x="187.00" y="476.50" font-size="15" text-anchor="start" font-weight="normal" transform="rotate(-90 187.00 476.50)" >Percentage IFN-γ/IL-2 positive</text>
<rect x="45.50" y="488.50" width="16.00" height="12.50" fill="#fff" stroke="#1a1a1a" stroke-width="2"/>
<text x="67.30" y="501.00" font-size="15">Isotype Ab: i.v.<tspan font-size="10.5" dy="-6">labeled</tspan></text>
<rect x="45.50" y="512.00" width="16.00" height="12.50" fill="#1a1a1a" stroke="#1a1a1a" stroke-width="2"/>
<text x="67.30" y="524.50" font-size="15">Isotype Ab: i.v.<tspan font-size="10.5" dy="-6">shielded</tspan></text>
<rect x="45.50" y="536.00" width="16.00" height="12.50" fill="#b3b3b3" stroke="#1a1a1a" stroke-width="2"/>
<text x="67.30" y="548.00" font-size="15">IL-2 neutralizing Ab: i.v.<tspan font-size="10.5" dy="-6">shielded</tspan></text>
<line x1="397.50" y1="313.65" x2="397.50" y2="451.35" stroke="#1a1a1a" stroke-width="1.5" />
<line x1="393.50" y1="450.60" x2="489.25" y2="450.60" stroke="#1a1a1a" stroke-width="1.5" />
<line x1="393.50" y1="314.40" x2="397.50" y2="314.40" stroke="#1a1a1a" stroke-width="1.5" />
<text x="390.20" y="318.86" font-size="13.3" text-anchor="end" font-weight="normal" >1.5</text>
<line x1="393.50" y1="359.80" x2="397.50" y2="359.80" stroke="#1a1a1a" stroke-width="1.5" />
<text x="390.20" y="364.26" font-size="13.3" text-anchor="end" font-weight="normal" >1.0</text>
<line x1="393.50" y1="405.20" x2="397.50" y2="405.20" stroke="#1a1a1a" stroke-width="1.5" />
<text x="390.20" y="409.66" font-size="13.3" text-anchor="end" font-weight="normal" >0.5</text>
<line x1="393.50" y1="450.60" x2="397.50" y2="450.60" stroke="#1a1a1a" stroke-width="1.5" />
<text x="390.20" y="455.06" font-size="13.3" text-anchor="end" font-weight="normal" >0.0</text>
<line x1="420.50" y1="450.60" x2="420.50" y2="455.00" stroke="#1a1a1a" stroke-width="1.5" />
<line x1="465.50" y1="450.60" x2="465.50" y2="455.00" stroke="#1a1a1a" stroke-width="1.5" />
<line x1="420.40" y1="441.60" x2="420.40" y2="433.80" stroke="#1a1a1a" stroke-width="1.71" />
<line x1="412.80" y1="433.80" x2="428.00" y2="433.80" stroke="#1a1a1a" stroke-width="1.9" />
<rect x="405.45" y="442.55" width="29.90" height="8.05" fill="#1a1a1a" stroke="#1a1a1a" stroke-width="1.9"/>
<line x1="465.75" y1="355.20" x2="465.75" y2="332.00" stroke="#1a1a1a" stroke-width="1.71" />
<line x1="457.80" y1="332.00" x2="473.50" y2="332.00" stroke="#1a1a1a" stroke-width="1.9" />
<rect x="451.15" y="356.15" width="29.20" height="94.45" fill="#fff" stroke="#1a1a1a" stroke-width="1.9"/>
<line x1="416.30" y1="316.30" x2="471.00" y2="316.30" stroke="#333" stroke-width="1" />
<text x="444.00" y="316.30" font-size="15" text-anchor="middle" font-weight="normal" >*</text>
<text x="362.00" y="477.50" font-size="15" text-anchor="start" font-weight="normal" transform="rotate(-90 362.00 477.50)" >Percentage recovery of input</text>
<rect x="395.00" y="487.70" width="16.50" height="13.30" fill="#1a1a1a" stroke="#1a1a1a" stroke-width="2"/>
<text x="418.25" y="499.50" font-size="15" text-anchor="start" font-weight="normal" >Lung donor</text>
<rect x="395.00" y="509.60" width="16.50" height="13.10" fill="#fff" stroke="#1a1a1a" stroke-width="1.8"/>
<text x="418.25" y="521.25" font-size="15" text-anchor="start" font-weight="normal" >Spleen donor</text>
<line x1="558.30" y1="310.65" x2="558.30" y2="449.55" stroke="#1a1a1a" stroke-width="1.1" />
<line x1="554.40" y1="449.00" x2="650.00" y2="449.00" stroke="#1a1a1a" stroke-width="1.1" />
<line x1="554.40" y1="311.20" x2="558.30" y2="311.20" stroke="#1a1a1a" stroke-width="1.1" />
<text x="552.00" y="315.09" font-size="11.6" text-anchor="end" font-weight="normal" >120</text>
<line x1="554.40" y1="334.10" x2="558.30" y2="334.10" stroke="#1a1a1a" stroke-width="1.1" />
<text x="552.00" y="337.99" font-size="11.6" text-anchor="end" font-weight="normal" >100</text>
<line x1="554.40" y1="357.20" x2="558.30" y2="357.20" stroke="#1a1a1a" stroke-width="1.1" />
<text x="552.00" y="361.09" font-size="11.6" text-anchor="end" font-weight="normal" >80</text>
<line x1="554.40" y1="380.10" x2="558.30" y2="380.10" stroke="#1a1a1a" stroke-width="1.1" />
<text x="552.00" y="383.99" font-size="11.6" text-anchor="end" font-weight="normal" >60</text>
<line x1="554.40" y1="402.80" x2="558.30" y2="402.80" stroke="#1a1a1a" stroke-width="1.1" />
<text x="552.00" y="406.69" font-size="11.6" text-anchor="end" font-weight="normal" >40</text>
<line x1="554.40" y1="425.90" x2="558.30" y2="425.90" stroke="#1a1a1a" stroke-width="1.1" />
<text x="552.00" y="429.79" font-size="11.6" text-anchor="end" font-weight="normal" >20</text>
<line x1="554.40" y1="449.00" x2="558.30" y2="449.00" stroke="#1a1a1a" stroke-width="1.1" />
<text x="552.00" y="452.89" font-size="11.6" text-anchor="end" font-weight="normal" >0</text>
<line x1="581.20" y1="449.00" x2="581.20" y2="451.70" stroke="#1a1a1a" stroke-width="1.1" />
<line x1="627.20" y1="449.00" x2="627.20" y2="451.70" stroke="#1a1a1a" stroke-width="1.1" />
<line x1="572.80" y1="443.80" x2="572.80" y2="434.70" stroke="#1a1a1a" stroke-width="1.1700000000000002" />
<line x1="570.00" y1="434.70" x2="575.70" y2="434.70" stroke="#1a1a1a" stroke-width="1.3" />
<rect x="567.05" y="444.45" width="11.50" height="4.55" fill="#1a1a1a" stroke="#1a1a1a" stroke-width="1.3"/>
<line x1="590.10" y1="349.70" x2="590.10" y2="339.30" stroke="#1a1a1a" stroke-width="1.1700000000000002" />
<line x1="587.40" y1="339.30" x2="593.40" y2="339.30" stroke="#1a1a1a" stroke-width="1.3" />
<rect x="584.55" y="350.35" width="11.10" height="98.65" fill="#fff" stroke="#1a1a1a" stroke-width="1.3"/>
<line x1="618.70" y1="343.20" x2="618.70" y2="331.20" stroke="#1a1a1a" stroke-width="1.1700000000000002" />
<line x1="616.00" y1="331.20" x2="622.00" y2="331.20" stroke="#1a1a1a" stroke-width="1.3" />
<rect x="613.05" y="343.85" width="11.30" height="105.15" fill="#1a1a1a" stroke="#1a1a1a" stroke-width="1.3"/>
<line x1="635.90" y1="441.20" x2="635.90" y2="440.30" stroke="#1a1a1a" stroke-width="1.1700000000000002" />
<line x1="633.00" y1="440.30" x2="639.00" y2="440.30" stroke="#1a1a1a" stroke-width="1.3" />
<rect x="630.15" y="441.85" width="11.50" height="7.15" fill="#fff" stroke="#1a1a1a" stroke-width="1.3"/>
<text x="524.50" y="479.00" font-size="15" text-anchor="start" font-weight="normal" transform="rotate(-90 524.50 479.00)" >Percentage of total recovered</text>
<text x="586.00" y="461.00" font-size="15" text-anchor="end" font-weight="normal" transform="rotate(-45 586.00 461.00)" >Spleen</text>
<text x="633.00" y="461.00" font-size="15" text-anchor="end" font-weight="normal" transform="rotate(-45 633.00 461.00)" >Lung</text>
<line x1="56.80" y1="596.10" x2="56.80" y2="790.80" stroke="#1a1a1a" stroke-width="2" />
<line x1="51.50" y1="789.80" x2="345.55" y2="789.80" stroke="#1a1a1a" stroke-width="2" />
<line x1="51.50" y1="789.80" x2="56.80" y2="789.80" stroke="#1a1a1a" stroke-width="2" />
<text x="48.30" y="794.40" font-size="15.5" text-anchor="end" font-weight="normal" >0</text>
<line x1="51.50" y1="751.26" x2="56.80" y2="751.26" stroke="#1a1a1a" stroke-width="2" />
<text x="48.30" y="755.86" font-size="15.5" text-anchor="end" font-weight="normal" >20</text>
<line x1="51.50" y1="712.72" x2="56.80" y2="712.72" stroke="#1a1a1a" stroke-width="2" />
<text x="48.30" y="717.32" font-size="15.5" text-anchor="end" font-weight="normal" >40</text>
<line x1="51.50" y1="674.18" x2="56.80" y2="674.18" stroke="#1a1a1a" stroke-width="2" />
<text x="48.30" y="678.78" font-size="15.5" text-anchor="end" font-weight="normal" >60</text>
<line x1="51.50" y1="635.64" x2="56.80" y2="635.64" stroke="#1a1a1a" stroke-width="2" />
<text x="48.30" y="640.24" font-size="15.5" text-anchor="end" font-weight="normal" >80</text>
<line x1="51.50" y1="597.10" x2="56.80" y2="597.10" stroke="#1a1a1a" stroke-width="2" />
<text x="48.30" y="601.70" font-size="15.5" text-anchor="end" font-weight="normal" >100</text>
<line x1="56.80" y1="789.80" x2="56.80" y2="794.30" stroke="#1a1a1a" stroke-width="2" />
<text x="56.80" y="811.00" font-size="15.4" text-anchor="middle" font-weight="normal" >0</text>
<line x1="125.55" y1="789.80" x2="125.55" y2="794.30" stroke="#1a1a1a" stroke-width="2" />
<text x="125.55" y="811.00" font-size="15.4" text-anchor="middle" font-weight="normal" >5</text>
<line x1="194.30" y1="789.80" x2="194.30" y2="794.30" stroke="#1a1a1a" stroke-width="2" />
<text x="194.30" y="811.00" font-size="15.4" text-anchor="middle" font-weight="normal" >10</text>
<line x1="263.05" y1="789.80" x2="263.05" y2="794.30" stroke="#1a1a1a" stroke-width="2" />
<text x="263.05" y="811.00" font-size="15.4" text-anchor="middle" font-weight="normal" >15</text>
<line x1="331.80" y1="789.80" x2="331.80" y2="794.30" stroke="#1a1a1a" stroke-width="2" />
<text x="331.80" y="811.00" font-size="15.4" text-anchor="middle" font-weight="normal" >20</text>
<text x="201.00" y="828.00" font-size="15" text-anchor="middle" font-weight="normal" >dpi</text>
<text x="13.00" y="760.20" font-size="15.15" text-anchor="start" font-weight="normal" transform="rotate(-90 13.00 760.20)" >Percentage survival</text>
<path d="M56.80,597.10 L345.55,597.10" fill="none" stroke="#1a1a1a" stroke-width="2.3" stroke-linejoin="miter"/>
<path d="M56.80,606.73 L345.55,606.73" fill="none" stroke="#1a1a1a" stroke-width="2.3" stroke-linejoin="miter"/>
<path d="M56.80,600.76 L166.80,600.76 L166.80,624.66 L180.55,624.66 L180.55,673.22 L194.30,673.22 L194.30,745.48 L208.05,745.48 L208.05,789.80" fill="none" stroke="#1a1a1a" stroke-width="2.3" stroke-linejoin="miter"/>
<path d="M56.80,597.10 L180.55,597.10 L180.55,661.27 L194.30,661.27 L194.30,725.63 L221.80,725.63 L221.80,789.80" fill="none" stroke="#1a1a1a" stroke-width="2.3" stroke-linejoin="miter"/>
<rect x="162.60" y="620.46" width="8.4" height="8.4" fill="none" stroke="#1a1a1a" stroke-width="1.9"/>
<rect x="176.35" y="669.02" width="8.4" height="8.4" fill="none" stroke="#1a1a1a" stroke-width="1.9"/>
<rect x="190.10" y="741.28" width="8.4" height="8.4" fill="none" stroke="#1a1a1a" stroke-width="1.9"/>
<path d="M176.05,659.17 L185.05,659.17 L180.55,667.04Z" fill="none" stroke="#1a1a1a" stroke-width="1.9"/>
<path d="M189.80,723.53 L198.80,723.53 L194.30,731.41Z" fill="none" stroke="#1a1a1a" stroke-width="1.9"/>
<path d="M217.30,787.70 L226.30,787.70 L221.80,795.57Z" fill="none" stroke="#1a1a1a" stroke-width="1.9"/>
<circle cx="345.55" cy="597.10" r="4.3" fill="none" stroke="#1a1a1a" stroke-width="1.9"/>
<path d="M341.05,611.33 L350.05,611.33 L345.55,603.46Z" fill="none" stroke="#1a1a1a" stroke-width="1.9"/>
<g fill="none" stroke="#1a1a1a" stroke-width="2.5" stroke-linejoin="round">
<circle cx="275.1" cy="651.7" r="5.7"/>
<path d="M269.7,685.4 L280.4,685.4 L275.05,675.2Z"/>
<path d="M269.7,704.8 L280.4,704.8 L275.05,714.4Z"/>
<rect x="269.4" y="732.3" width="11.0" height="10.4" rx="0.6"/>
</g>
<text x="286.50" y="656.50" font-size="15">4x10<tspan font-size="9.8" dy="-5.2">6</tspan></text>
<text x="286.50" y="685.70" font-size="15">2.5x10<tspan font-size="9.8" dy="-5.2">6</tspan></text>
<text x="286.50" y="713.20" font-size="15">1x10<tspan font-size="9.8" dy="-5.2">6</tspan></text>
<text x="286.50" y="743.40" font-size="15" text-anchor="start" font-weight="normal" >No transfer</text>
<line x1="438.00" y1="627.70" x2="438.00" y2="777.20" stroke="#1a1a1a" stroke-width="2" />
<line x1="433.80" y1="776.20" x2="537.30" y2="776.20" stroke="#1a1a1a" stroke-width="2" />
<line x1="433.80" y1="628.70" x2="438.00" y2="628.70" stroke="#1a1a1a" stroke-width="2" />
<text x="430.90" y="634.80" font-size="15" text-anchor="end">10<tspan font-size="10.8" dy="-5.7">8</tspan></text>
<line x1="433.80" y1="665.60" x2="438.00" y2="665.60" stroke="#1a1a1a" stroke-width="2" />
<text x="430.90" y="671.70" font-size="15" text-anchor="end">10<tspan font-size="10.8" dy="-5.7">7</tspan></text>
<line x1="433.80" y1="702.50" x2="438.00" y2="702.50" stroke="#1a1a1a" stroke-width="2" />
<text x="430.90" y="708.60" font-size="15" text-anchor="end">10<tspan font-size="10.8" dy="-5.7">6</tspan></text>
<line x1="433.80" y1="739.30" x2="438.00" y2="739.30" stroke="#1a1a1a" stroke-width="2" />
<text x="430.90" y="745.40" font-size="15" text-anchor="end">10<tspan font-size="10.8" dy="-5.7">5</tspan></text>
<line x1="433.80" y1="776.20" x2="438.00" y2="776.20" stroke="#1a1a1a" stroke-width="2" />
<text x="430.90" y="782.30" font-size="15" text-anchor="end">10<tspan font-size="10.8" dy="-5.7">4</tspan></text>
<line x1="464.20" y1="776.20" x2="464.20" y2="782.00" stroke="#1a1a1a" stroke-width="2" />
<line x1="513.10" y1="776.20" x2="513.10" y2="782.00" stroke="#1a1a1a" stroke-width="2" />
<line x1="464.05" y1="643.10" x2="464.05" y2="634.40" stroke="#1a1a1a" stroke-width="1.5" />
<line x1="457.20" y1="634.40" x2="471.20" y2="634.40" stroke="#1a1a1a" stroke-width="1.7" />
<rect x="452.15" y="643.95" width="23.80" height="132.25" fill="#fff" stroke="#1a1a1a" stroke-width="1.7"/>
<line x1="513.25" y1="699.50" x2="513.25" y2="693.00" stroke="#1a1a1a" stroke-width="1.5" />
<line x1="506.30" y1="693.00" x2="520.30" y2="693.00" stroke="#1a1a1a" stroke-width="1.7" />
<rect x="501.55" y="700.35" width="23.40" height="75.85" fill="#1a1a1a" stroke="#1a1a1a" stroke-width="1.7"/>
<text x="452.6" y="602.6" font-size="15.3">PR8-OVA<tspan font-size="10.5" dy="3.5" dx="0.5">II</tspan></text>
<text x="488.80" y="622.80" font-size="15" text-anchor="middle" font-weight="normal" >*</text>
<line x1="461.10" y1="621.40" x2="515.80" y2="621.40" stroke="#333" stroke-width="1" />
<text x="401.00" y="767.40" font-size="15" text-anchor="start" font-weight="normal" transform="rotate(-90 401.00 767.40)" >IAV copies per lung</text>
<text x="470.30" y="789.80" font-size="15" text-anchor="end" font-weight="normal" transform="rotate(-45 470.30 789.80)" >No transfer</text>
<text x="519" y="789.5" font-size="15" text-anchor="end" transform="rotate(-45 519 789.5)">T<tspan font-size="10" dy="3">RM</tspan><tspan dy="-3"> transfer</tspan></text>
<line x1="583.20" y1="626.40" x2="583.20" y2="777.90" stroke="#1a1a1a" stroke-width="2" />
<line x1="578.30" y1="776.90" x2="683.00" y2="776.90" stroke="#1a1a1a" stroke-width="2" />
<line x1="578.30" y1="627.40" x2="583.20" y2="627.40" stroke="#1a1a1a" stroke-width="2" />
<text x="574.40" y="633.50" font-size="15" text-anchor="end">10<tspan font-size="10.8" dy="-5.7">9</tspan></text>
<line x1="578.30" y1="657.40" x2="583.20" y2="657.40" stroke="#1a1a1a" stroke-width="2" />
<text x="574.40" y="663.50" font-size="15" text-anchor="end">10<tspan font-size="10.8" dy="-5.7">8</tspan></text>
<line x1="578.30" y1="687.20" x2="583.20" y2="687.20" stroke="#1a1a1a" stroke-width="2" />
<text x="574.40" y="693.30" font-size="15" text-anchor="end">10<tspan font-size="10.8" dy="-5.7">7</tspan></text>
<line x1="578.30" y1="717.10" x2="583.20" y2="717.10" stroke="#1a1a1a" stroke-width="2" />
<text x="574.40" y="723.20" font-size="15" text-anchor="end">10<tspan font-size="10.8" dy="-5.7">6</tspan></text>
<line x1="578.30" y1="747.00" x2="583.20" y2="747.00" stroke="#1a1a1a" stroke-width="2" />
<text x="574.40" y="753.10" font-size="15" text-anchor="end">10<tspan font-size="10.8" dy="-5.7">5</tspan></text>
<line x1="578.30" y1="776.90" x2="583.20" y2="776.90" stroke="#1a1a1a" stroke-width="2" />
<text x="574.40" y="783.00" font-size="15" text-anchor="end">10<tspan font-size="10.8" dy="-5.7">4</tspan></text>
<line x1="607.70" y1="776.90" x2="607.70" y2="782.50" stroke="#1a1a1a" stroke-width="2" />
<line x1="657.90" y1="776.90" x2="657.90" y2="782.50" stroke="#1a1a1a" stroke-width="2" />
<line x1="607.85" y1="657.10" x2="607.85" y2="651.60" stroke="#1a1a1a" stroke-width="1.5" />
<line x1="601.00" y1="651.60" x2="614.20" y2="651.60" stroke="#1a1a1a" stroke-width="1.7" />
<rect x="596.15" y="657.95" width="23.40" height="118.95" fill="#fff" stroke="#1a1a1a" stroke-width="1.7"/>
<line x1="658.10" y1="658.10" x2="658.10" y2="653.20" stroke="#1a1a1a" stroke-width="1.5" />
<line x1="651.40" y1="653.20" x2="665.40" y2="653.20" stroke="#1a1a1a" stroke-width="1.7" />
<rect x="646.05" y="658.95" width="24.10" height="117.95" fill="#1a1a1a" stroke="#1a1a1a" stroke-width="1.7"/>
<text x="632.70" y="602.60" font-size="15" text-anchor="middle" font-weight="normal" >PR8</text>
<text x="634.20" y="630.40" font-size="15" text-anchor="middle" font-weight="normal" >NS</text>
<line x1="604.40" y1="634.30" x2="659.50" y2="634.30" stroke="#333" stroke-width="1" />
<text x="614.00" y="790.00" font-size="15" text-anchor="end" font-weight="normal" transform="rotate(-45 614.00 790.00)" >No transfer</text>
<text x="663.5" y="791" font-size="15" text-anchor="end" transform="rotate(-45 663.5 791)">T<tspan font-size="10" dy="3">RM</tspan><tspan dy="-3"> transfer</tspan></text>
</svg>
</body></html>
